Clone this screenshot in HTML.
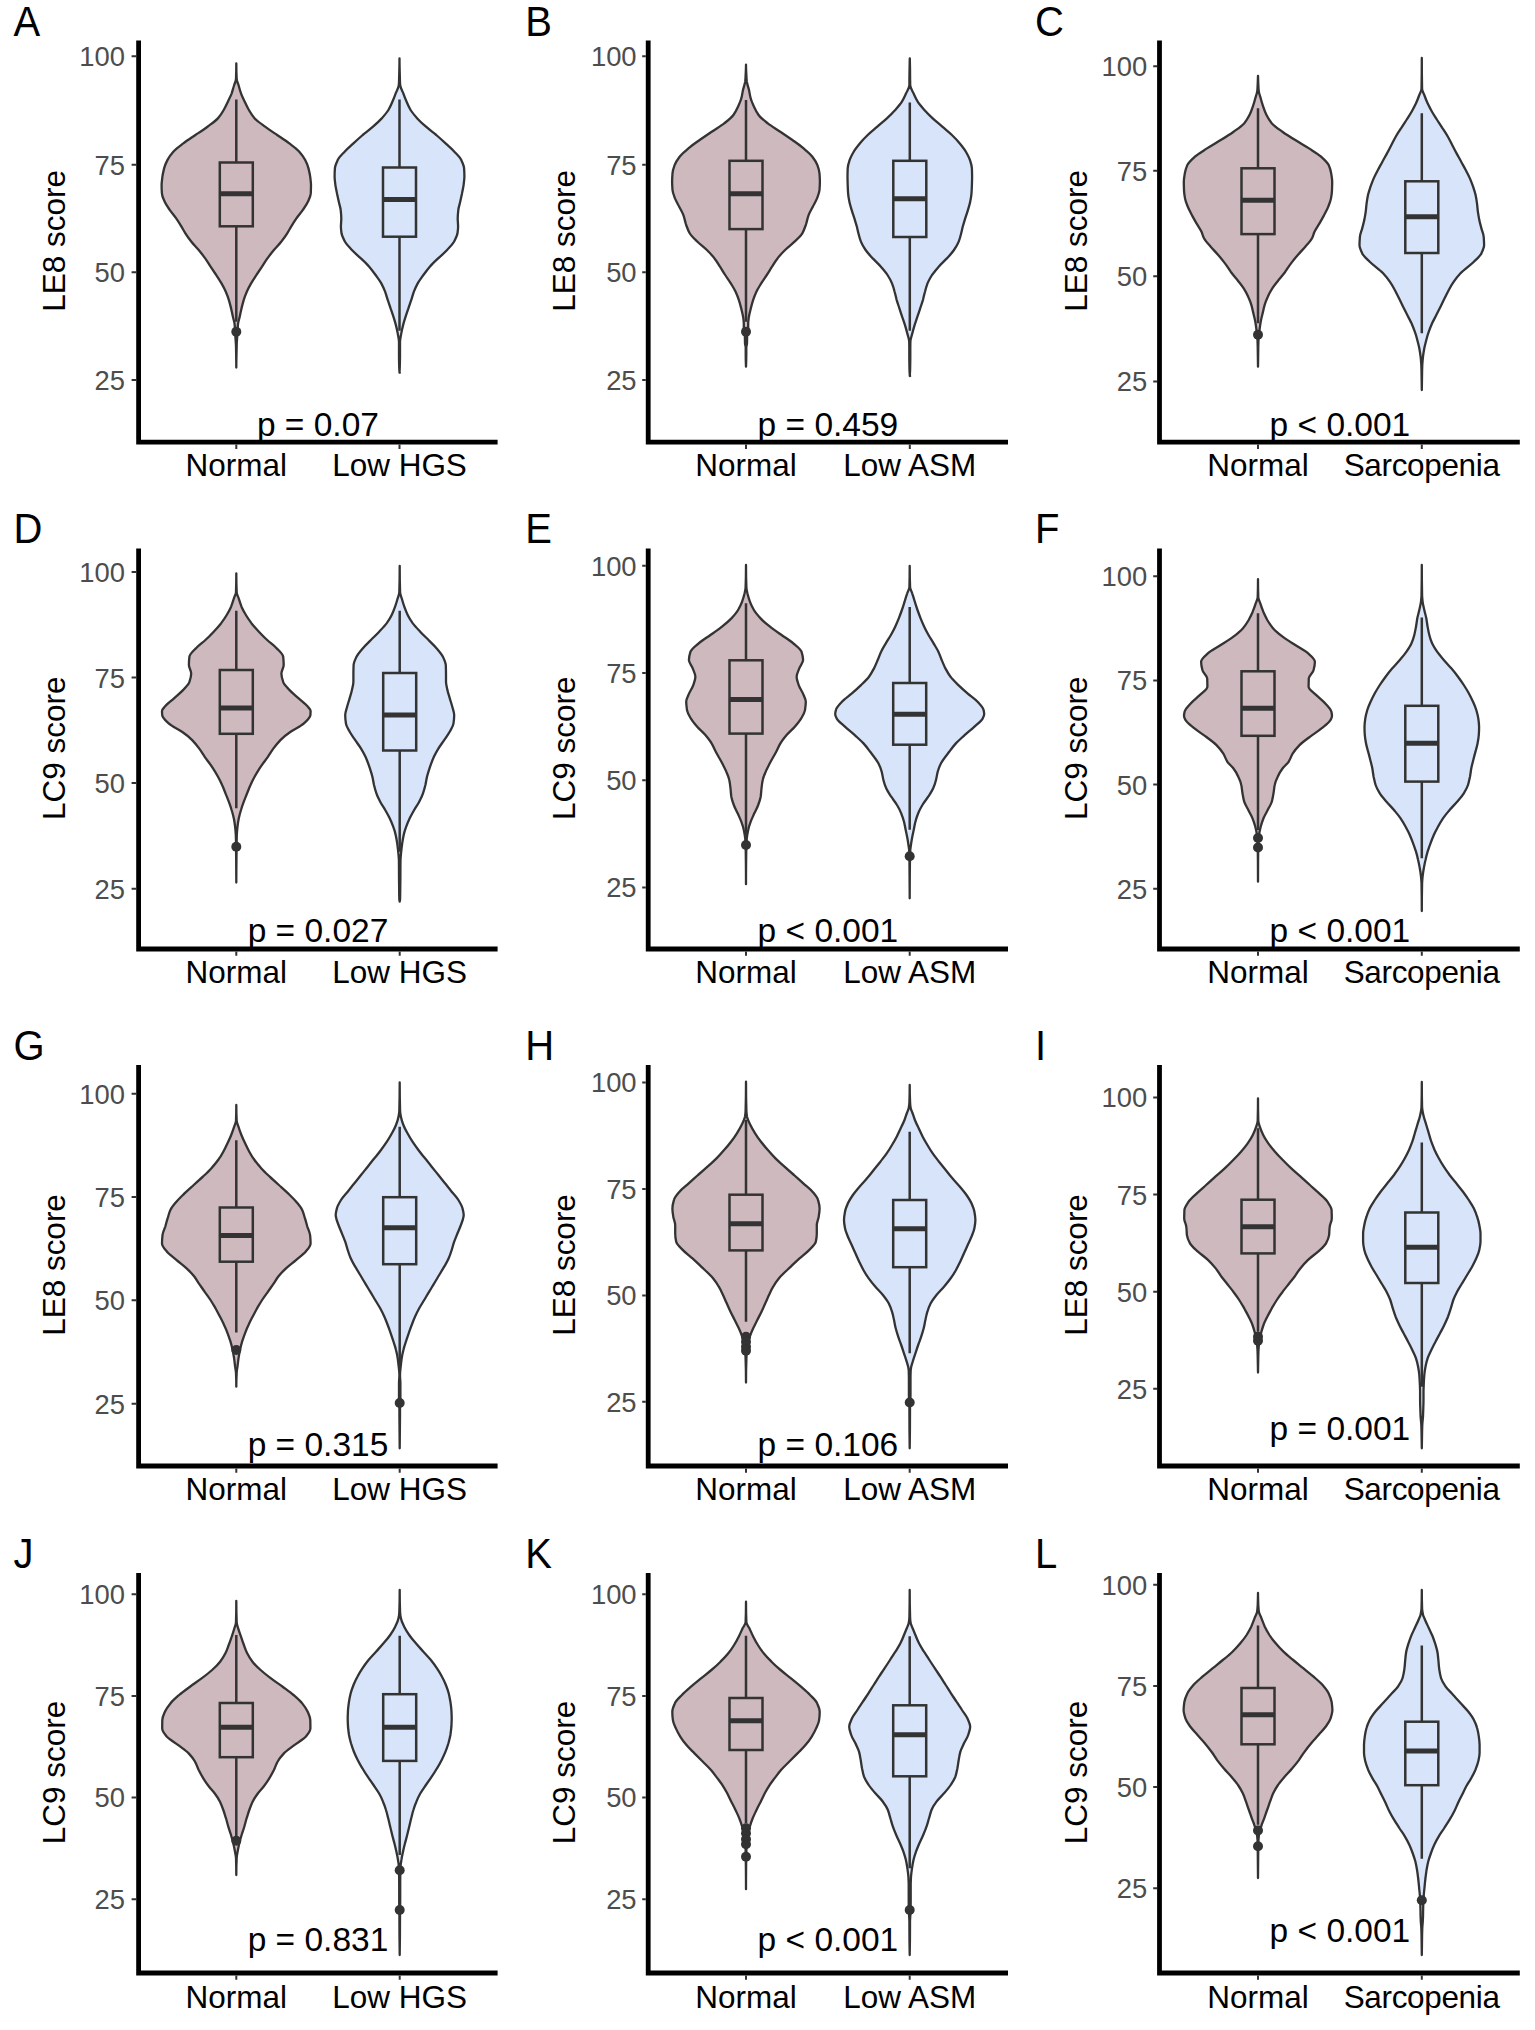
<!DOCTYPE html>
<html lang="en"><head><meta charset="utf-8"><title>LE8 and LC9 scores by muscle status</title>
<style>
html,body{margin:0;padding:0;background:#fff}
body{width:1535px;height:2030px;overflow:hidden}
svg{display:block}
text{font-family:"Liberation Sans",sans-serif}
.m{font-size:31.5px;fill:#000}
.t{font-size:27.4px;fill:#4D4D4D}
.l{font-size:40px;fill:#000}
.p{font-size:33.5px;fill:#000}
.v{stroke:#333333;stroke-width:2.3;stroke-linejoin:round}
.b{stroke:#333333;stroke-width:2.5;fill:none}
.w{stroke:#333333;stroke-width:2.5;fill:none}
.md{stroke:#333333;stroke-width:5;fill:none}
.ax{stroke:#000;stroke-width:4.8;fill:none;stroke-linecap:square}
.tk{stroke:#333333;stroke-width:2;fill:none}
.o{fill:#333333}
</style></head>
<body>
<svg width="1535" height="2030" viewBox="0 0 1535 2030">
<rect width="1535" height="2030" fill="#fff"/>
<g id="panel-A">
<text class="l" transform="translate(13.4 36) scale(1 1.04)">A</text>
<path class="v" fill="#CDB9BE" d="M236.3 63.3C236.3 68.6 236.4 73.8 236.7 79C236.7 81 237.9 83 238.5 85C239.3 87.8 240 90.6 241 93.3C242 96.1 243.4 98.9 244.7 101.7C246 104.5 247.2 107.2 248.9 110C250.5 112.8 252.2 115.6 254.7 118.4C257.2 121.1 261.4 123.9 265.1 126.7C268.9 129.5 273.2 132.3 277.2 135C281.3 137.8 285.7 140.6 289.3 143.4C293 146.2 296.9 148.9 299.3 151.7C301.8 154.5 303.8 157.3 305.2 160.1C306.6 162.8 307.8 165.6 308.5 168.4C309.2 171.2 309.8 173.9 310.2 176.7C310.5 179.5 311 182.3 311 185.1C311 187.8 310.9 190.6 310.8 193.4C310.6 196.2 309.1 199 307.9 201.8C306.7 204.5 304.6 207.3 302.7 210.1C300.8 212.9 298.3 215.6 296.4 218.4C294.5 221.2 292.7 224 291 226.8C289.7 229 288.6 231.1 287.2 233.3C285.5 236.1 283.4 238.9 281.2 241.7C279 244.5 276.2 247.2 273.9 250C271.6 252.8 269.4 255.6 267.4 258.4C265.4 261.1 263.8 263.9 262 266.7C260.1 269.5 258.2 272.3 256.4 275C254.6 277.8 252.7 280.6 251.1 283.4C249.5 286.2 248 288.9 246.8 291.7C245.6 294.5 244.5 297.3 243.7 300.1C242.9 302.8 242.2 305.6 241.5 308.4C240.9 311.2 240.3 313.9 239.7 316.7C239.1 319.5 238 322.3 237.9 325.1C237.7 327.3 237.7 329.5 237.6 331.7C237.5 334.4 237.1 337.2 237 340C236.8 342 236.7 344 236.7 346C236.5 353.2 236.3 360.3 236.3 367.5C236.3 360.3 236.1 353.2 236 346C235.9 344 235.8 342 235.6 340C235.5 337.2 235.1 334.4 235 331.7C234.9 329.5 234.9 327.3 234.7 325.1C234.6 322.3 233.5 319.5 232.9 316.7C232.3 313.9 231.7 311.2 231.1 308.4C230.4 305.6 229.7 302.8 228.9 300.1C228.1 297.3 227 294.5 225.8 291.7C224.6 288.9 223.1 286.2 221.5 283.4C219.9 280.6 218 277.8 216.2 275C214.4 272.3 212.5 269.5 210.6 266.7C208.8 263.9 207.2 261.1 205.2 258.4C203.2 255.6 201 252.8 198.7 250C196.4 247.2 193.6 244.5 191.4 241.7C189.2 238.9 187.1 236.1 185.4 233.3C184 231.1 182.9 229 181.6 226.8C179.9 224 178.1 221.2 176.2 218.4C174.3 215.6 171.8 212.9 169.9 210.1C168 207.3 165.9 204.5 164.7 201.8C163.5 199 162 196.2 161.9 193.4C161.7 190.6 161.6 187.8 161.6 185.1C161.6 182.3 162.1 179.5 162.4 176.7C162.8 173.9 163.4 171.2 164.1 168.4C164.8 165.6 166 162.8 167.4 160.1C168.8 157.3 170.8 154.5 173.3 151.7C175.7 148.9 179.6 146.2 183.3 143.4C186.9 140.6 191.3 137.8 195.4 135C199.4 132.3 203.7 129.5 207.5 126.7C211.2 123.9 215.4 121.1 217.9 118.4C220.4 115.6 222.1 112.8 223.7 110C225.4 107.2 226.6 104.5 227.9 101.7C229.2 98.9 230.6 96.1 231.7 93.3C232.6 90.6 233.3 87.8 234.2 85C234.8 83 235.9 81 236 79C236.2 73.8 236.3 68.6 236.3 63.3Z"/>
<path class="w" d="M236.3 99.5V162.5M236.3 226.3V321.7"/>
<circle class="o" cx="236.3" cy="331.7" r="5"/>
<rect class="b" x="219.8" y="162.5" width="33" height="63.8" fill="#CDB9BE"/>
<path class="md" d="M219.8 193.7H252.8"/>
<path class="v" fill="#D7E4F9" d="M399.5 58.3C399.5 65.2 399.7 72.1 399.9 79C399.9 81 400 83 400.2 85C400.4 87.8 402.2 90.6 403.3 93.3C404.3 96.1 405.4 98.9 406.6 101.7C407.8 104.5 408.9 107.2 410.6 110C412.3 112.8 414.8 115.6 417.3 118.4C419.8 121.1 422.9 123.9 426 126.7C429.2 129.5 433 132.3 436.3 135C439.5 137.8 442.6 140.6 445.6 143.4C448.6 146.2 451.8 148.9 454.4 151.7C457 154.5 460 157.3 461.3 160.1C462.6 162.8 464 165.6 464.1 168.4C464.3 171.2 464.4 173.9 464.4 176.7C464.4 179.5 463.9 182.3 463.6 185.1C463.2 187.8 462.5 190.6 462 193.4C461.4 196.2 460.8 199 460.2 201.8C459.6 204.5 458.6 207.3 458.3 210.1C458 212.9 457.7 215.6 457.7 218.4C457.7 221.2 458.1 224 458.1 226.8C458.1 229 457.8 231.1 457.5 233.3C457 236.1 455.5 238.9 454 241.7C452.4 244.5 449.6 247.2 447.1 250C444.5 252.8 441 255.6 438.1 258.4C435.2 261.1 432.2 263.9 429.8 266.7C427.4 269.5 425.4 272.3 423.4 275C421.4 277.8 419.2 280.6 417.7 283.4C416.2 286.2 415 288.9 413.9 291.7C412.9 294.5 412.1 297.3 411.2 300.1C410.3 302.8 409.3 305.6 408.4 308.4C407.4 311.2 406.5 313.9 405.6 316.7C404.7 319.5 403.8 322.3 403.1 325.1C402.4 327.8 401.8 330.6 401.3 333.4C400.8 336.2 400 339 400 341.8C400 343.9 400 346.1 400 348.3C400 351.1 400 353.9 400 356.7C400 360 399.9 363.3 399.8 366.7C399.8 368.6 399.5 370.6 399.5 372.5C399.5 372.6 399.7 372.6 399.8 372.7C399.3 372.6 399.5 372.6 399.5 372.5C399.5 370.6 399.2 368.6 399.2 366.7C399.1 363.3 399 360 399 356.7C399 353.9 399 351.1 399 348.3C399 346.1 399 343.9 399 341.8C399 339 398.2 336.2 397.7 333.4C397.2 330.6 396.6 327.8 395.9 325.1C395.2 322.3 394.3 319.5 393.4 316.7C392.5 313.9 391.6 311.2 390.6 308.4C389.7 305.6 388.7 302.8 387.8 300.1C386.9 297.3 386.1 294.5 385.1 291.7C384 288.9 382.8 286.2 381.3 283.4C379.8 280.6 377.6 277.8 375.6 275C373.6 272.3 371.6 269.5 369.2 266.7C366.8 263.9 363.8 261.1 360.9 258.4C358 255.6 354.5 252.8 351.9 250C349.4 247.2 346.6 244.5 345 241.7C343.5 238.9 342 236.1 341.5 233.3C341.2 231.1 340.9 229 340.9 226.8C340.9 224 341.3 221.2 341.3 218.4C341.3 215.6 341 212.9 340.7 210.1C340.4 207.3 339.4 204.5 338.8 201.8C338.2 199 337.6 196.2 337 193.4C336.5 190.6 335.8 187.8 335.4 185.1C335.1 182.3 334.6 179.5 334.6 176.7C334.6 173.9 334.7 171.2 334.9 168.4C335 165.6 336.4 162.8 337.7 160.1C339 157.3 342 154.5 344.6 151.7C347.2 148.9 350.4 146.2 353.4 143.4C356.4 140.6 359.5 137.8 362.7 135C366 132.3 369.8 129.5 373 126.7C376.1 123.9 379.2 121.1 381.7 118.4C384.2 115.6 386.7 112.8 388.4 110C390.1 107.2 391.2 104.5 392.4 101.7C393.6 98.9 394.7 96.1 395.7 93.3C396.8 90.6 398.6 87.8 398.8 85C399 83 399.1 81 399.1 79C399.3 72.1 399.5 65.2 399.5 58.3Z"/>
<path class="w" d="M399.5 99.5V167.5M399.5 236.7V330.8"/>
<rect class="b" x="383" y="167.5" width="33" height="69.2" fill="#D7E4F9"/>
<path class="md" d="M383 199.5H416"/>
<path class="ax" d="M138.6 43V442.2H495.2"/>
<path class="tk" d="M131.6 56.2H136.2M131.6 164.7H136.2M131.6 272.3H136.2M131.6 380H136.2M236.3 444.6V449M399.5 444.6V449"/>
<text class="t" text-anchor="end" transform="translate(124.9 66.1) scale(1 1.04)">100</text>
<text class="t" text-anchor="end" transform="translate(124.9 174.6) scale(1 1.04)">75</text>
<text class="t" text-anchor="end" transform="translate(124.9 282.2) scale(1 1.04)">50</text>
<text class="t" text-anchor="end" transform="translate(124.9 389.9) scale(1 1.04)">25</text>
<text class="m" text-anchor="middle" transform="translate(64.8 240.9) rotate(-90) scale(1 1.015)">LE8 score</text>
<text class="m" text-anchor="middle" transform="translate(236.3 476.4) scale(1 1.015)">Normal</text>
<text class="m" text-anchor="middle" transform="translate(399.5 476.4) scale(1 1.015)">Low HGS</text>
<text class="p" text-anchor="middle" transform="translate(317.9 435.5)">p = 0.07</text>
</g>
<g id="panel-B">
<text class="l" transform="translate(525.3 36) scale(1 1.04)">B</text>
<path class="v" fill="#CDB9BE" d="M746 64.7C746 68.3 746.2 72 746.4 75.7C746.4 77.7 746.6 79.7 746.8 81.7C747.2 84.4 748.4 87.2 749 90C749.6 92.8 749.9 95.6 750.7 98.3C751.4 101.1 752.7 103.9 754 106.7C755.3 109.5 756.6 112.2 758.6 115C760.6 117.8 764.3 120.6 767.8 123.4C771.3 126.1 776.2 128.9 780.3 131.7C784.4 134.5 788.5 137.3 792.4 140C796.3 142.8 800.4 145.6 803.6 148.4C806.9 151.2 810.3 153.9 812.4 156.7C814.5 159.5 816.4 162.3 817.4 165.1C818.4 167.8 819.3 170.6 819.5 173.4C819.7 176.2 819.9 178.9 819.9 181.7C819.9 184.5 819.7 187.3 819.5 190.1C819.2 192.8 818 195.6 817 198.4C815.9 201.2 814.2 204 812.8 206.8C811.4 209.5 809.6 212.3 808.6 215.1C807.6 217.9 807.1 220.6 806.3 223.4C806.1 223.9 806 224.5 805.8 225C804.8 227.8 803.9 230.6 802.3 233.3C800.7 236.1 797.4 238.9 794.5 241.7C791.7 244.5 787.9 247.2 785.1 250C782.3 252.8 779.6 255.6 777.5 258.4C775.3 261.1 773.7 263.9 772 266.7C770.2 269.5 768.6 272.3 766.8 275C765 277.8 762.9 280.6 761.2 283.4C759.5 286.2 757.7 288.9 756.4 291.7C755.1 294.5 754 297.3 753.1 300.1C752.2 302.8 751.5 305.6 750.8 308.4C750.1 311.2 749.4 313.9 748.9 316.7C748.6 318.9 748.2 321.1 748.2 323.3C748.2 325 748.2 326.7 748.2 328.3C748.2 330.3 747.2 332.2 747.2 334.2C747.1 337.2 747.1 340.3 747 343.3C746.9 344.7 746.3 346.1 746.3 347.5C746.3 349.5 746.3 351.5 746.3 353.5C746.3 357.9 746.2 362.3 746 366.7C745.8 362.3 745.7 357.9 745.7 353.5C745.7 351.5 745.7 349.5 745.7 347.5C745.7 346.1 745.1 344.7 745 343.3C744.9 340.3 744.9 337.2 744.8 334.2C744.8 332.2 743.8 330.3 743.8 328.3C743.8 326.7 743.8 325 743.8 323.3C743.8 321.1 743.4 318.9 743.1 316.7C742.6 313.9 741.9 311.2 741.2 308.4C740.5 305.6 739.8 302.8 738.9 300.1C738 297.3 736.9 294.5 735.6 291.7C734.3 288.9 732.5 286.2 730.8 283.4C729.1 280.6 727 277.8 725.2 275C723.4 272.3 721.8 269.5 720 266.7C718.3 263.9 716.7 261.1 714.5 258.4C712.4 255.6 709.7 252.8 706.9 250C704.1 247.2 700.3 244.5 697.5 241.7C694.6 238.9 691.3 236.1 689.7 233.3C688.1 230.6 687.2 227.8 686.2 225C686 224.5 685.9 223.9 685.7 223.4C684.9 220.6 684.4 217.9 683.4 215.1C682.4 212.3 680.6 209.5 679.2 206.8C677.8 204 676.1 201.2 675 198.4C674 195.6 672.8 192.8 672.5 190.1C672.3 187.3 672.1 184.5 672.1 181.7C672.1 178.9 672.3 176.2 672.5 173.4C672.7 170.6 673.6 167.8 674.6 165.1C675.6 162.3 677.5 159.5 679.6 156.7C681.7 153.9 685.1 151.2 688.4 148.4C691.6 145.6 695.7 142.8 699.6 140C703.5 137.3 707.6 134.5 711.7 131.7C715.8 128.9 720.7 126.1 724.2 123.4C727.7 120.6 731.4 117.8 733.4 115C735.4 112.2 736.7 109.5 738 106.7C739.3 103.9 740.6 101.1 741.3 98.3C742.1 95.6 742.4 92.8 743 90C743.6 87.2 744.8 84.4 745.2 81.7C745.4 79.7 745.6 77.7 745.6 75.7C745.8 72 746 68.3 746 64.7Z"/>
<path class="w" d="M746 100V160.8M746 229.2V321.7"/>
<circle class="o" cx="746" cy="331.7" r="5"/>
<rect class="b" x="729.5" y="160.8" width="33" height="68.3" fill="#CDB9BE"/>
<path class="md" d="M729.5 193.7H762.5"/>
<path class="v" fill="#D7E4F9" d="M909.8 58.3C910 65.2 910.1 72.1 910.1 79C910.2 81 910.2 83 910.2 85C910.2 87.8 912.3 90.6 913.5 93.3C914.8 96.1 916 98.9 917.7 101.7C919.4 104.5 921.9 107.2 924.4 110C926.9 112.8 929.7 115.6 932.7 118.4C935.7 121.1 939.1 123.9 942.3 126.7C945.5 129.5 949 132.3 951.9 135C954.8 137.8 957.5 140.6 959.8 143.4C962.1 146.2 964.3 148.9 965.9 151.7C967.5 154.5 969.1 157.3 970 160.1C970.9 162.8 971.8 165.6 971.9 168.4C972 171.2 972.1 173.9 972.1 176.7C972.1 179.5 972 182.3 971.9 185.1C971.8 187.8 971.7 190.6 971.5 193.4C971.3 196.2 970.8 199 970.2 201.8C969.7 204.5 968.7 207.3 967.9 210.1C967.1 212.9 966.1 215.6 965.2 218.4C964.4 221.2 963.5 224 962.7 226.8C962.2 229 961.8 231.1 961.2 233.3C960.5 236.1 959.8 238.9 958.7 241.7C957.6 244.5 955.9 247.2 954 250C952.1 252.8 949.4 255.6 946.9 258.4C944.3 261.1 941.2 263.9 938.7 266.7C936.3 269.5 933.8 272.3 932 275C930.3 277.8 928.6 280.6 927.5 283.4C926.5 286.2 925.7 288.9 925 291.7C924.2 294.5 923.6 297.3 922.9 300.1C922.1 302.8 921.1 305.6 920.2 308.4C919.3 311.2 918.4 313.9 917.4 316.7C916.5 319.5 915.5 322.3 914.6 325.1C913.8 327.8 913 330.6 912.3 333.4C911.6 336.2 910.4 339 910.4 341.8C910.3 343.9 910.3 346.1 910.3 348.3C910.3 351.1 910.3 353.9 910.3 356.7C910.3 361.1 910.2 365.6 910.1 370C910.1 371.9 909.8 373.9 909.8 375.8C909.8 375.9 910 375.9 910.1 376C909.6 375.9 909.8 375.9 909.8 375.8C909.8 373.9 909.5 371.9 909.5 370C909.4 365.6 909.3 361.1 909.3 356.7C909.3 353.9 909.3 351.1 909.3 348.3C909.3 346.1 909.3 343.9 909.2 341.8C909.2 339 908 336.2 907.3 333.4C906.6 330.6 905.8 327.8 905 325.1C904.1 322.3 903.1 319.5 902.1 316.7C901.2 313.9 900.3 311.2 899.4 308.4C898.5 305.6 897.5 302.8 896.7 300.1C896 297.3 895.4 294.5 894.6 291.7C893.9 288.9 893.1 286.2 892 283.4C891 280.6 889.3 277.8 887.5 275C885.8 272.3 883.3 269.5 880.9 266.7C878.4 263.9 875.3 261.1 872.7 258.4C870.2 255.6 867.5 252.8 865.6 250C863.7 247.2 862 244.5 860.9 241.7C859.8 238.9 859.1 236.1 858.4 233.3C857.8 231.1 857.4 229 856.9 226.8C856.1 224 855.2 221.2 854.4 218.4C853.5 215.6 852.5 212.9 851.7 210.1C850.9 207.3 849.9 204.5 849.4 201.8C848.8 199 848.3 196.2 848.1 193.4C847.9 190.6 847.8 187.8 847.7 185.1C847.6 182.3 847.5 179.5 847.5 176.7C847.5 173.9 847.6 171.2 847.7 168.4C847.8 165.6 848.7 162.8 849.6 160.1C850.5 157.3 852.1 154.5 853.7 151.7C855.3 148.9 857.5 146.2 859.8 143.4C862.1 140.6 864.8 137.8 867.7 135C870.6 132.3 874.1 129.5 877.3 126.7C880.5 123.9 883.9 121.1 886.9 118.4C889.9 115.6 892.7 112.8 895.2 110C897.7 107.2 900.2 104.5 901.9 101.7C903.6 98.9 904.8 96.1 906.1 93.3C907.3 90.6 909.4 87.8 909.4 85C909.4 83 909.4 81 909.4 79C909.5 72.1 909.6 65.2 909.8 58.3Z"/>
<path class="w" d="M909.8 102.5V160.8M909.8 237V330.8"/>
<rect class="b" x="893.3" y="160.8" width="33" height="76.2" fill="#D7E4F9"/>
<path class="md" d="M893.3 198.8H926.3"/>
<path class="ax" d="M648.2 43V442.2H1005.6"/>
<path class="tk" d="M642.2 56.2H645.8M642.2 164.7H645.8M642.2 272.3H645.8M642.2 380H645.8M746 444.6V449M909.8 444.6V449"/>
<text class="t" text-anchor="end" transform="translate(636.6 66.1) scale(1 1.04)">100</text>
<text class="t" text-anchor="end" transform="translate(636.6 174.6) scale(1 1.04)">75</text>
<text class="t" text-anchor="end" transform="translate(636.6 282.2) scale(1 1.04)">50</text>
<text class="t" text-anchor="end" transform="translate(636.6 389.9) scale(1 1.04)">25</text>
<text class="m" text-anchor="middle" transform="translate(575.2 240.9) rotate(-90) scale(1 1.015)">LE8 score</text>
<text class="m" text-anchor="middle" transform="translate(746 476.4) scale(1 1.015)">Normal</text>
<text class="m" text-anchor="middle" transform="translate(909.8 476.4) scale(1 1.015)">Low ASM</text>
<text class="p" text-anchor="middle" transform="translate(827.9 435.5)">p = 0.459</text>
</g>
<g id="panel-C">
<text class="l" transform="translate(1035 36) scale(1 1.04)">C</text>
<path class="v" fill="#CDB9BE" d="M1258 75.8C1258.1 78.6 1258.2 81.3 1258.3 84C1258.4 86 1258.5 88 1258.6 90C1258.8 92.8 1259.9 95.6 1260.7 98.3C1261.4 101.1 1262.2 103.9 1263.2 106.7C1264.1 109.5 1265.1 112.2 1266.5 115C1267.9 117.8 1269.6 120.6 1271.9 123.4C1274.3 126.1 1278.5 128.9 1282.4 131.7C1286.2 134.5 1290.8 137.3 1295.3 140C1299.7 142.8 1304.8 145.6 1309 148.4C1313.3 151.2 1318 153.9 1321.1 156.7C1324.2 159.5 1327.4 162.3 1328.7 165.1C1329.9 167.8 1330.7 170.6 1331.2 173.4C1331.6 176.2 1332.2 178.9 1332.2 181.7C1332.2 184.5 1332.1 187.3 1332 190.1C1331.9 192.8 1331.5 195.6 1331 198.4C1330.5 201.2 1329.3 204 1328.2 206.8C1327.1 209.5 1325.5 212.3 1324.1 215.1C1322.6 217.9 1321.1 220.6 1319.5 223.4C1317.9 226.2 1315.8 229 1314.5 231.8C1313.5 234 1313.1 236.1 1312 238.3C1310.6 241.1 1307.7 243.9 1305.3 246.7C1302.9 249.5 1300.2 252.2 1297.8 255C1295.4 257.8 1293 260.6 1291 263.4C1288.9 266.1 1287.3 268.9 1285.3 271.7C1283.2 274.5 1280.8 277.3 1278.6 280C1276.5 282.8 1274.1 285.6 1272.3 288.4C1270.6 291.1 1269 293.9 1267.8 296.7C1266.5 299.5 1265.4 302.3 1264.6 305.1C1263.8 307.8 1263.3 310.6 1262.6 313.4C1261.9 316.2 1261.2 318.9 1260.7 321.7C1260.1 325 1259.7 328.4 1259.3 331.7C1259 334.4 1258.6 337.2 1258.5 340C1258.4 342 1258.4 344 1258.3 346C1258.2 352.9 1258.1 359.8 1258 366.7C1257.9 359.8 1257.8 352.9 1257.7 346C1257.6 344 1257.6 342 1257.5 340C1257.4 337.2 1257 334.4 1256.7 331.7C1256.3 328.4 1255.9 325 1255.3 321.7C1254.8 318.9 1254.1 316.2 1253.4 313.4C1252.7 310.6 1252.2 307.8 1251.4 305.1C1250.6 302.3 1249.5 299.5 1248.2 296.7C1247 293.9 1245.4 291.1 1243.7 288.4C1241.9 285.6 1239.5 282.8 1237.4 280C1235.2 277.3 1232.8 274.5 1230.7 271.7C1228.7 268.9 1227.1 266.1 1225 263.4C1223 260.6 1220.6 257.8 1218.2 255C1215.8 252.2 1213.1 249.5 1210.7 246.7C1208.3 243.9 1205.4 241.1 1204 238.3C1202.9 236.1 1202.5 234 1201.5 231.8C1200.2 229 1198.1 226.2 1196.5 223.4C1194.9 220.6 1193.4 217.9 1191.9 215.1C1190.5 212.3 1188.9 209.5 1187.8 206.8C1186.7 204 1185.5 201.2 1185 198.4C1184.5 195.6 1184.1 192.8 1184 190.1C1183.9 187.3 1183.8 184.5 1183.8 181.7C1183.8 178.9 1184.4 176.2 1184.8 173.4C1185.3 170.6 1186.1 167.8 1187.3 165.1C1188.6 162.3 1191.8 159.5 1194.9 156.7C1198 153.9 1202.7 151.2 1207 148.4C1211.2 145.6 1216.3 142.8 1220.7 140C1225.2 137.3 1229.8 134.5 1233.6 131.7C1237.5 128.9 1241.7 126.1 1244.1 123.4C1246.4 120.6 1248.1 117.8 1249.5 115C1250.9 112.2 1251.9 109.5 1252.8 106.7C1253.8 103.9 1254.6 101.1 1255.3 98.3C1256.1 95.6 1257.2 92.8 1257.4 90C1257.5 88 1257.6 86 1257.7 84C1257.8 81.3 1257.9 78.6 1258 75.8Z"/>
<path class="w" d="M1258 108.3V168.3M1258 234.2V323.3"/>
<circle class="o" cx="1258" cy="334.7" r="5"/>
<rect class="b" x="1241.5" y="168.3" width="33" height="65.8" fill="#CDB9BE"/>
<path class="md" d="M1241.5 200.3H1274.5"/>
<path class="v" fill="#D7E4F9" d="M1421.8 58C1421.8 68.3 1421.9 78.7 1422.1 89C1422.2 91 1423.5 93 1424.3 95C1425.3 97.8 1426.4 100.6 1427.6 103.3C1428.9 106.1 1430.4 108.9 1432 111.7C1433.6 114.5 1435.5 117.2 1437.2 120C1439 122.8 1440.9 125.6 1442.6 128.4C1444.4 131.1 1446.3 133.9 1447.9 136.7C1449.5 139.5 1450.8 142.3 1452.2 145C1453.7 147.8 1455.1 150.6 1456.6 153.4C1458.1 156.2 1459.7 158.9 1461.2 161.7C1462.7 164.5 1464.3 167.3 1465.7 170C1467.2 172.8 1468.7 175.6 1469.9 178.4C1471.1 181.2 1472.1 183.9 1473.1 186.7C1474 189.5 1475 192.3 1475.6 195.1C1476.2 197.8 1476.6 200.6 1477 203.4C1477.4 206.2 1477.5 209 1477.9 211.8C1478.3 214.5 1478.8 217.3 1479.3 220.1C1479.9 222.9 1480.7 225.6 1481.4 228.4C1482.1 231.2 1483.5 234 1483.7 236.8C1483.9 239.5 1484.1 242.3 1484.1 245.1C1484.1 247.9 1482.7 250.7 1481.4 253.4C1480.1 256.2 1476.7 259 1473.9 261.8C1470 265.6 1464.1 269.5 1460.5 273.3C1457.9 276.1 1455.7 278.9 1453.8 281.7C1451.9 284.4 1450.3 287.2 1448.8 290C1447.3 292.8 1446 295.6 1444.6 298.3C1443.2 301.1 1441.9 303.9 1440.5 306.7C1439.1 309.4 1437.7 312.2 1436.3 315C1434.9 317.8 1433.4 320.6 1432.1 323.3C1430.9 326.1 1429.8 328.9 1428.8 331.7C1427.8 334.4 1427 337.2 1426.3 340C1425.6 342.8 1424.8 345.6 1424.3 348.3C1423.8 351.1 1423.3 353.9 1423 356.7C1422.7 359.4 1422.4 362.2 1422.3 365C1422.2 367 1422.2 369 1422.1 371C1422 377.3 1421.9 383.7 1421.8 390C1421.7 383.7 1421.6 377.3 1421.5 371C1421.4 369 1421.4 367 1421.3 365C1421.2 362.2 1420.9 359.4 1420.6 356.7C1420.3 353.9 1419.8 351.1 1419.3 348.3C1418.8 345.6 1418 342.8 1417.3 340C1416.6 337.2 1415.8 334.4 1414.8 331.7C1413.8 328.9 1412.7 326.1 1411.5 323.3C1410.2 320.6 1408.7 317.8 1407.3 315C1405.9 312.2 1404.5 309.4 1403.1 306.7C1401.7 303.9 1400.4 301.1 1399 298.3C1397.6 295.6 1396.3 292.8 1394.8 290C1393.3 287.2 1391.7 284.4 1389.8 281.7C1387.9 278.9 1385.7 276.1 1383.1 273.3C1379.5 269.5 1373.6 265.6 1369.7 261.8C1366.9 259 1363.5 256.2 1362.2 253.4C1360.9 250.7 1359.5 247.9 1359.5 245.1C1359.5 242.3 1359.7 239.5 1359.9 236.8C1360.1 234 1361.5 231.2 1362.2 228.4C1362.9 225.6 1363.7 222.9 1364.3 220.1C1364.8 217.3 1365.3 214.5 1365.7 211.8C1366.1 209 1366.2 206.2 1366.6 203.4C1367 200.6 1367.4 197.8 1368 195.1C1368.6 192.3 1369.6 189.5 1370.5 186.7C1371.5 183.9 1372.5 181.2 1373.7 178.4C1374.9 175.6 1376.4 172.8 1377.9 170C1379.3 167.3 1380.9 164.5 1382.4 161.7C1383.9 158.9 1385.5 156.2 1387 153.4C1388.5 150.6 1389.9 147.8 1391.4 145C1392.8 142.3 1394.1 139.5 1395.7 136.7C1397.3 133.9 1399.2 131.1 1401 128.4C1402.7 125.6 1404.6 122.8 1406.4 120C1408.1 117.2 1410 114.5 1411.6 111.7C1413.2 108.9 1414.7 106.1 1416 103.3C1417.2 100.6 1418.3 97.8 1419.3 95C1420.1 93 1421.4 91 1421.5 89C1421.7 78.7 1421.8 68.3 1421.8 58Z"/>
<path class="w" d="M1421.8 113.3V181.3M1421.8 253V333.3"/>
<rect class="b" x="1405.3" y="181.3" width="33" height="71.7" fill="#D7E4F9"/>
<path class="md" d="M1405.3 216.7H1438.3"/>
<path class="ax" d="M1159.5 43V442.2H1517.4"/>
<path class="tk" d="M1153.2 66.3H1157.1M1153.2 170.8H1157.1M1153.2 276.3H1157.1M1153.2 381.5H1157.1M1258 444.6V449M1421.8 444.6V449"/>
<text class="t" text-anchor="end" transform="translate(1147.2 76.2) scale(1 1.04)">100</text>
<text class="t" text-anchor="end" transform="translate(1147.2 180.7) scale(1 1.04)">75</text>
<text class="t" text-anchor="end" transform="translate(1147.2 286.2) scale(1 1.04)">50</text>
<text class="t" text-anchor="end" transform="translate(1147.2 391.4) scale(1 1.04)">25</text>
<text class="m" text-anchor="middle" transform="translate(1086.8 240.9) rotate(-90) scale(1 1.015)">LE8 score</text>
<text class="m" text-anchor="middle" transform="translate(1258 476.4) scale(1 1.015)">Normal</text>
<text class="m" text-anchor="middle" textLength="156.3" transform="translate(1421.8 476.4) scale(1 1.015)">Sarcopenia</text>
<text class="p" text-anchor="middle" transform="translate(1339.9 435.5)">p &lt; 0.001</text>
</g>
<g id="panel-D">
<text class="l" transform="translate(13.4 543) scale(1 1.04)">D</text>
<path class="v" fill="#CDB9BE" d="M236.3 573.3C236.3 579.7 236.4 586 236.7 592.3C236.7 594.3 238 596.3 238.7 598.3C239.6 601.1 240.4 603.9 241.5 606.7C242.7 609.5 244.2 612.2 245.9 615C247.5 617.8 249.5 620.6 251.6 623.4C253.8 626.1 256.3 628.9 258.9 631.7C261.5 634.5 264.2 637.3 267.2 640C270.2 642.8 274.3 645.6 276.8 648.4C279.4 651.1 282.9 653.9 283.2 656.7C283.5 659.5 283.7 662.3 283.7 665C283.7 667.8 281.4 670.6 281.4 673.4C281.4 676.2 282.2 679 283.1 681.7C283.9 684.5 287 687.3 289.6 690.1C292.1 692.8 295.6 695.6 298.7 698.4C301.7 701.2 305.7 704 307.9 706.8C309 708.1 310.6 709.5 310.6 710.9C310.6 712.3 310.5 713.7 310.4 715.1C310.2 717.9 306.8 720.6 303.9 723.4C301 726.2 294.4 729 290.6 731.8C286.7 734.5 283.1 737.3 280.4 740.1C277.7 742.9 275.5 745.7 273.5 748.4C271.4 751.2 269.8 754 267.9 756.8C265.2 760.6 262.1 764.5 259.6 768.3C257.8 771.1 256.1 773.9 254.6 776.7C253.1 779.4 251.7 782.2 250.5 785C249.2 787.8 248.2 790.6 247.1 793.3C246 796.1 244.8 798.9 243.8 801.7C242.8 804.4 241.8 807.2 241 810C240.1 812.8 239.4 815.6 238.8 818.3C238.2 821.1 237.8 823.9 237.5 826.7C237.2 829.4 236.9 832.2 236.8 835C236.7 837 236.7 839 236.7 841C236.5 854.8 236.3 868.7 236.3 882.5C236.3 868.7 236.1 854.8 236 841C235.9 839 235.9 837 235.8 835C235.7 832.2 235.4 829.4 235.1 826.7C234.8 823.9 234.4 821.1 233.8 818.3C233.2 815.6 232.5 812.8 231.6 810C230.8 807.2 229.8 804.4 228.8 801.7C227.8 798.9 226.6 796.1 225.5 793.3C224.4 790.6 223.4 787.8 222.1 785C220.9 782.2 219.5 779.4 218 776.7C216.5 773.9 214.8 771.1 213 768.3C210.5 764.5 207.4 760.6 204.7 756.8C202.8 754 201.2 751.2 199.1 748.4C197.1 745.7 194.9 742.9 192.2 740.1C189.5 737.3 185.9 734.5 182 731.8C178.2 729 171.6 726.2 168.7 723.4C165.8 720.6 162.4 717.9 162.2 715.1C162.1 713.7 162 712.3 162 710.9C162 709.5 163.6 708.1 164.7 706.8C166.9 704 170.9 701.2 174 698.4C177 695.6 180.5 692.8 183 690.1C185.6 687.3 188.7 684.5 189.5 681.7C190.4 679 191.2 676.2 191.2 673.4C191.2 670.6 188.9 667.8 188.9 665C188.9 662.3 189.1 659.5 189.4 656.7C189.7 653.9 193.2 651.1 195.8 648.4C198.3 645.6 202.4 642.8 205.4 640C208.4 637.3 211.1 634.5 213.7 631.7C216.3 628.9 218.8 626.1 221 623.4C223.1 620.6 225.1 617.8 226.7 615C228.4 612.2 229.9 609.5 231.1 606.7C232.2 603.9 233 601.1 233.9 598.3C234.6 596.3 235.9 594.3 236 592.3C236.2 586 236.3 579.7 236.3 573.3Z"/>
<path class="w" d="M236.3 610.8V670M236.3 733.8V808.3"/>
<circle class="o" cx="236.3" cy="846.7" r="5"/>
<rect class="b" x="219.8" y="670" width="33" height="63.8" fill="#CDB9BE"/>
<path class="md" d="M219.8 708H252.8"/>
<path class="v" fill="#D7E4F9" d="M399.7 565.8C399.7 574.7 399.8 583.5 400.1 592.3C400.1 594.3 401.1 596.3 401.7 598.3C402.5 601.1 403.3 603.9 404.3 606.7C405.3 609.5 406.3 612.2 407.7 615C409 617.8 410.8 620.6 412.8 623.4C414.9 626.1 417.6 628.9 420.2 631.7C422.8 634.5 425.8 637.3 428.5 640C431.3 642.8 434.3 645.6 436.7 648.4C439 651.1 441.5 653.9 442.9 656.7C444.2 659.5 445.6 662.3 445.8 665C445.9 667.8 446 670.6 446 673.4C446 676.2 446 679 446 681.7C446 684.5 446.9 687.3 447.4 690.1C448 692.8 449 695.6 449.8 698.4C450.6 701.2 451.6 704 452.3 706.8C453 709.5 454.2 712.3 454.2 715.1C454.2 717.9 453.9 720.6 453.5 723.4C453.2 726.2 451.2 729 449.7 731.8C448.2 734.5 446.1 737.3 444.2 740.1C442.3 742.9 440.2 745.7 438.5 748.4C436.8 751.2 435.2 754 433.9 756.8C432.2 760.6 430.8 764.5 429.5 768.3C428.6 771.1 427.7 773.9 427 776.7C426.4 779.4 426 782.2 425.4 785C424.7 787.8 424 790.6 423 793.3C422.1 796.1 420.6 798.9 419.2 801.7C417.8 804.4 415.8 807.2 414.2 810C412.6 812.8 411 815.6 409.7 818.3C408.4 821.1 407.2 823.9 406.2 826.7C405.2 829.4 404.3 832.2 403.7 835C403.1 837.8 402.6 840.6 402.2 843.3C401.8 846.1 401.5 848.9 401.2 851.7C400.9 854.4 400.6 857.2 400.5 860C400.4 865.6 400.4 871.1 400.4 876.7C400.3 882.2 400.3 887.8 400.2 893.3C400.2 895.3 400.1 897.3 400.1 899.3C400 900.1 399.8 900.9 399.7 901.7C399.6 900.9 399.4 900.1 399.3 899.3C399.3 897.3 399.2 895.3 399.2 893.3C399.1 887.8 399.1 882.2 399 876.7C399 871.1 399 865.6 398.9 860C398.8 857.2 398.5 854.4 398.2 851.7C397.9 848.9 397.6 846.1 397.2 843.3C396.8 840.6 396.3 837.8 395.7 835C395.1 832.2 394.2 829.4 393.2 826.7C392.2 823.9 391 821.1 389.7 818.3C388.4 815.6 386.8 812.8 385.2 810C383.6 807.2 381.6 804.4 380.2 801.7C378.8 798.9 377.3 796.1 376.4 793.3C375.4 790.6 374.7 787.8 374 785C373.4 782.2 373 779.4 372.4 776.7C371.7 773.9 370.8 771.1 369.9 768.3C368.6 764.5 367.2 760.6 365.5 756.8C364.2 754 362.6 751.2 360.9 748.4C359.2 745.7 357.1 742.9 355.2 740.1C353.3 737.3 351.2 734.5 349.7 731.8C348.2 729 346.2 726.2 345.9 723.4C345.5 720.6 345.2 717.9 345.2 715.1C345.2 712.3 346.4 709.5 347.1 706.8C347.8 704 348.8 701.2 349.6 698.4C350.4 695.6 351.4 692.8 351.9 690.1C352.5 687.3 353.4 684.5 353.4 681.7C353.4 679 353.4 676.2 353.4 673.4C353.4 670.6 353.5 667.8 353.6 665C353.8 662.3 355.2 659.5 356.5 656.7C357.9 653.9 360.4 651.1 362.7 648.4C365.1 645.6 368.1 642.8 370.9 640C373.6 637.3 376.6 634.5 379.2 631.7C381.8 628.9 384.5 626.1 386.6 623.4C388.6 620.6 390.4 617.8 391.7 615C393.1 612.2 394.1 609.5 395.1 606.7C396.1 603.9 396.9 601.1 397.7 598.3C398.3 596.3 399.3 594.3 399.3 592.3C399.6 583.5 399.7 574.7 399.7 565.8Z"/>
<path class="w" d="M399.7 610.8V673M399.7 750.5V851.7"/>
<rect class="b" x="383.2" y="673" width="33" height="77.5" fill="#D7E4F9"/>
<path class="md" d="M383.2 715H416.2"/>
<path class="ax" d="M138.6 550.9V949H495.2"/>
<path class="tk" d="M131.6 572H136.2M131.6 677.6H136.2M131.6 783.1H136.2M131.6 888.7H136.2M236.3 951.4V955.8M399.7 951.4V955.8"/>
<text class="t" text-anchor="end" transform="translate(124.9 581.9) scale(1 1.04)">100</text>
<text class="t" text-anchor="end" transform="translate(124.9 687.5) scale(1 1.04)">75</text>
<text class="t" text-anchor="end" transform="translate(124.9 793) scale(1 1.04)">50</text>
<text class="t" text-anchor="end" transform="translate(124.9 898.6) scale(1 1.04)">25</text>
<text class="m" text-anchor="middle" transform="translate(64.8 748.2) rotate(-90) scale(1 1.015)">LC9 score</text>
<text class="m" text-anchor="middle" transform="translate(236.3 982.7) scale(1 1.015)">Normal</text>
<text class="m" text-anchor="middle" transform="translate(399.7 982.7) scale(1 1.015)">Low HGS</text>
<text class="p" text-anchor="middle" transform="translate(318 941.5)">p = 0.027</text>
</g>
<g id="panel-E">
<text class="l" transform="translate(525.3 543) scale(1 1.04)">E</text>
<path class="v" fill="#CDB9BE" d="M746 565C746 572.4 746.1 579.9 746.4 587.3C746.4 589.3 747 591.3 747.4 593.3C748.1 596.1 748.9 598.9 749.9 601.7C750.9 604.5 752.2 607.2 753.9 610C755.5 612.8 758 615.6 760.6 618.4C763.2 621.1 766.5 623.9 770 626.7C773.4 629.5 777.7 632.3 781.6 635C785.5 637.8 790.1 640.6 793.3 643.4C796.5 646.1 800.5 648.9 801.5 651.7C802.4 654.5 803.1 657.3 803.1 660C803.1 662.8 800.3 665.6 799.3 668.4C798.3 671.2 796.6 674 796.6 676.7C796.6 679.5 797.8 682.3 798.7 685.1C799.6 687.8 801.7 690.6 802.9 693.4C804 696.2 805.8 699 805.8 701.8C805.8 704.5 805.4 707.3 805 710.1C804.5 712.9 802.8 715.6 801.2 718.4C799.6 721.2 797.2 724 794.8 726.8C792.4 729.5 789 732.3 786.6 735.1C784.3 737.9 782 740.7 780.4 743.4C778.7 746.2 777.7 749 776.2 751.8C774.2 755.6 771.8 759.5 769.8 763.3C768.4 766.1 766.8 768.9 765.7 771.7C764.5 774.4 763.2 777.2 762.7 780C762.1 782.8 761.8 785.6 761.5 788.3C761.2 791.1 761.1 793.9 760.7 796.7C760.2 799.4 759.2 802.2 758.2 805C757.2 807.8 755.6 810.6 754.3 813.3C753.1 816.1 751.7 818.9 750.7 821.7C749.7 824.4 748.7 827.2 748.2 830C747.6 832.8 747.1 835.6 746.8 838.3C746.6 840.3 746.4 842.3 746.4 844.3C746.1 857.6 746 870.9 746 884.2C746 870.9 745.9 857.6 745.6 844.3C745.6 842.3 745.4 840.3 745.2 838.3C744.9 835.6 744.4 832.8 743.8 830C743.3 827.2 742.3 824.4 741.3 821.7C740.3 818.9 738.9 816.1 737.7 813.3C736.4 810.6 734.8 807.8 733.8 805C732.8 802.2 731.8 799.4 731.3 796.7C730.9 793.9 730.8 791.1 730.5 788.3C730.2 785.6 729.9 782.8 729.3 780C728.8 777.2 727.5 774.4 726.3 771.7C725.2 768.9 723.6 766.1 722.2 763.3C720.2 759.5 717.8 755.6 715.8 751.8C714.3 749 713.3 746.2 711.6 743.4C710 740.7 707.7 737.9 705.4 735.1C703 732.3 699.6 729.5 697.2 726.8C694.8 724 692.4 721.2 690.8 718.4C689.2 715.6 687.5 712.9 687 710.1C686.6 707.3 686.2 704.5 686.2 701.8C686.2 699 688 696.2 689.1 693.4C690.3 690.6 692.4 687.8 693.3 685.1C694.2 682.3 695.4 679.5 695.4 676.7C695.4 674 693.7 671.2 692.7 668.4C691.7 665.6 688.9 662.8 688.9 660C688.9 657.3 689.6 654.5 690.5 651.7C691.5 648.9 695.5 646.1 698.7 643.4C701.9 640.6 706.5 637.8 710.4 635C714.3 632.3 718.6 629.5 722 626.7C725.5 623.9 728.8 621.1 731.4 618.4C734 615.6 736.5 612.8 738.1 610C739.8 607.2 741.1 604.5 742.1 601.7C743.1 598.9 743.9 596.1 744.6 593.3C745 591.3 745.6 589.3 745.6 587.3C745.9 579.9 746 572.4 746 565Z"/>
<path class="w" d="M746 603.3V660.3M746 733.7V835"/>
<circle class="o" cx="746" cy="845" r="5"/>
<rect class="b" x="729.5" y="660.3" width="33" height="73.3" fill="#CDB9BE"/>
<path class="md" d="M729.5 699.5H762.5"/>
<path class="v" fill="#D7E4F9" d="M909.7 565.8C909.7 573 909.8 580.2 910.1 587.3C910.1 589.3 911.6 591.3 912.2 593.3C913.2 596.1 914 598.9 914.8 601.7C915.7 604.5 916.5 607.2 917.5 610C918.5 612.8 919.5 615.6 920.6 618.4C921.7 621.1 922.9 623.9 924.2 626.7C925.5 629.5 927 632.3 928.5 635C930.1 637.8 932 640.6 933.6 643.4C935.2 646.1 937 648.9 938.4 651.7C939.7 654.5 940.5 657.3 941.7 660C942.9 662.8 944 665.6 945.4 668.4C946.9 671.2 948.4 674 950.5 676.7C952.5 679.5 955.5 682.3 958.4 685.1C961.2 687.8 964.3 690.6 967.5 693.4C970.7 696.2 975 699 977.6 701.8C980 704.5 982.9 707.3 983.6 710.1C983.9 711.5 984.2 712.9 984.2 714.2C984.2 715.6 983.4 717 982.7 718.4C981.3 721.2 977.2 724 974.2 726.8C971.2 729.5 967.7 732.3 964.6 735.1C961.6 737.9 958.4 740.7 955.9 743.4C953.3 746.2 951.3 749 949.2 751.8C946.3 755.6 943 759.5 941 763.3C939.6 766.1 938.4 768.9 937.7 771.7C937 774.4 936.7 777.2 936 780C935.3 782.8 934.4 785.6 933.2 788.3C932 791.1 930 793.9 928.2 796.7C926.4 799.4 924 802.2 922.4 805C920.7 807.8 919.3 810.6 918.2 813.3C917.1 816.1 916.1 818.9 915.4 821.7C914.7 824.4 914.3 827.2 913.7 830C913.1 832.8 912.5 835.6 912 838.3C911.5 841.1 911.1 843.9 910.7 846.7C910.4 848.7 910.1 850.7 910.1 852.7C909.8 867.9 909.7 883.1 909.7 898.3C909.7 883.1 909.6 867.9 909.4 852.7C909.3 850.7 909 848.7 908.7 846.7C908.3 843.9 907.9 841.1 907.4 838.3C906.9 835.6 906.3 832.8 905.7 830C905.1 827.2 904.7 824.4 904 821.7C903.3 818.9 902.3 816.1 901.2 813.3C900.1 810.6 898.7 807.8 897 805C895.4 802.2 893 799.4 891.2 796.7C889.4 793.9 887.4 791.1 886.2 788.3C885 785.6 884.1 782.8 883.4 780C882.7 777.2 882.4 774.4 881.7 771.7C881 768.9 879.8 766.1 878.4 763.3C876.4 759.5 873.1 755.6 870.2 751.8C868.1 749 866.1 746.2 863.5 743.4C861 740.7 857.8 737.9 854.8 735.1C851.7 732.3 848.2 729.5 845.2 726.8C842.2 724 838.1 721.2 836.7 718.4C836 717 835.2 715.6 835.2 714.2C835.2 712.9 835.5 711.5 835.9 710.1C836.5 707.3 839.4 704.5 841.9 701.8C844.4 699 848.7 696.2 851.9 693.4C855.1 690.6 858.2 687.8 861 685.1C863.9 682.3 866.9 679.5 869 676.7C871 674 872.5 671.2 874 668.4C875.4 665.6 876.5 662.8 877.7 660C878.9 657.3 879.7 654.5 881.1 651.7C882.4 648.9 884.2 646.1 885.8 643.4C887.4 640.6 889.3 637.8 890.9 635C892.4 632.3 893.9 629.5 895.2 626.7C896.5 623.9 897.7 621.1 898.8 618.4C899.9 615.6 900.9 612.8 901.9 610C902.9 607.2 903.7 604.5 904.6 601.7C905.4 598.9 906.2 596.1 907.2 593.3C907.8 591.3 909.3 589.3 909.4 587.3C909.6 580.2 909.7 573 909.7 565.8Z"/>
<path class="w" d="M909.7 607V683M909.7 744.7V829.7"/>
<circle class="o" cx="909.7" cy="856.3" r="5"/>
<rect class="b" x="893.2" y="683" width="33" height="61.7" fill="#D7E4F9"/>
<path class="md" d="M893.2 714.2H926.2"/>
<path class="ax" d="M648.2 550.9V949H1005.6"/>
<path class="tk" d="M642.2 565.8H645.8M642.2 673H645.8M642.2 780.2H645.8M642.2 887.4H645.8M746 951.4V955.8M909.7 951.4V955.8"/>
<text class="t" text-anchor="end" transform="translate(636.6 575.7) scale(1 1.04)">100</text>
<text class="t" text-anchor="end" transform="translate(636.6 682.9) scale(1 1.04)">75</text>
<text class="t" text-anchor="end" transform="translate(636.6 790.1) scale(1 1.04)">50</text>
<text class="t" text-anchor="end" transform="translate(636.6 897.3) scale(1 1.04)">25</text>
<text class="m" text-anchor="middle" transform="translate(575.2 748.2) rotate(-90) scale(1 1.015)">LC9 score</text>
<text class="m" text-anchor="middle" transform="translate(746 982.7) scale(1 1.015)">Normal</text>
<text class="m" text-anchor="middle" transform="translate(909.7 982.7) scale(1 1.015)">Low ASM</text>
<text class="p" text-anchor="middle" transform="translate(827.9 941.5)">p &lt; 0.001</text>
</g>
<g id="panel-F">
<text class="l" transform="translate(1035 543) scale(1 1.04)">F</text>
<path class="v" fill="#CDB9BE" d="M1258 579.2C1258 585.2 1258.1 591.3 1258.3 597.3C1258.4 599.3 1259.6 601.3 1260.3 603.3C1261.2 606.1 1262.2 608.9 1263.3 611.7C1264.5 614.5 1265.8 617.2 1267.3 620C1268.9 622.8 1270.8 625.6 1273.2 628.4C1275.6 631.1 1279 633.9 1282.6 636.7C1286.2 639.5 1291 642.3 1295.3 645C1299.5 647.8 1305.3 650.6 1308.2 653.4C1311.2 656.1 1314.9 658.9 1314.9 661.7C1314.9 664.5 1314.3 667.3 1313.6 670C1313 672.8 1308.9 675.6 1308.8 678.4C1308.7 681.2 1308.6 684 1308.6 686.7C1308.6 689.5 1313.5 692.3 1316.3 695.1C1319.1 697.8 1322.9 700.6 1325.3 703.4C1327.7 706.2 1330.8 709 1331.4 711.8C1331.7 713.1 1332 714.5 1332 715.9C1332 717.3 1331.2 718.7 1330.5 720.1C1329.1 722.9 1324.9 725.6 1321.5 728.4C1318.2 731.2 1313.6 734 1309.9 736.8C1306.2 739.5 1302.2 742.3 1299.5 745.1C1296.8 747.9 1294.5 750.7 1292.8 753.4C1291.1 756.2 1290.4 759 1288.6 761.8C1287.2 764 1284.3 766.1 1282.7 768.3C1280.6 771.1 1278.9 773.9 1277.7 776.7C1276.4 779.4 1275.2 782.2 1274.7 785C1274.1 787.8 1274 790.6 1273.5 793.3C1273 796.1 1272.6 798.9 1271.8 801.7C1271 804.4 1269.1 807.2 1267.7 810C1266.3 812.8 1264.6 815.6 1263.5 818.3C1262.4 821.1 1261.4 823.9 1260.7 826.7C1260 829.4 1259.4 832.2 1259 835C1258.7 837 1258.4 839 1258.3 841C1258.1 854.6 1258 868.1 1258 881.7C1258 868.1 1257.9 854.6 1257.7 841C1257.6 839 1257.3 837 1257 835C1256.6 832.2 1256 829.4 1255.3 826.7C1254.6 823.9 1253.6 821.1 1252.5 818.3C1251.4 815.6 1249.7 812.8 1248.3 810C1246.9 807.2 1245 804.4 1244.2 801.7C1243.4 798.9 1243 796.1 1242.5 793.3C1242 790.6 1241.9 787.8 1241.3 785C1240.8 782.2 1239.6 779.4 1238.3 776.7C1237.1 773.9 1235.4 771.1 1233.3 768.3C1231.7 766.1 1228.8 764 1227.4 761.8C1225.6 759 1224.9 756.2 1223.2 753.4C1221.5 750.7 1219.2 747.9 1216.5 745.1C1213.8 742.3 1209.8 739.5 1206.1 736.8C1202.4 734 1197.8 731.2 1194.5 728.4C1191.1 725.6 1186.9 722.9 1185.5 720.1C1184.8 718.7 1184 717.3 1184 715.9C1184 714.5 1184.3 713.1 1184.6 711.8C1185.2 709 1188.3 706.2 1190.7 703.4C1193.1 700.6 1196.9 697.8 1199.7 695.1C1202.5 692.3 1207.4 689.5 1207.4 686.7C1207.4 684 1207.3 681.2 1207.2 678.4C1207.1 675.6 1203 672.8 1202.4 670C1201.7 667.3 1201.1 664.5 1201.1 661.7C1201.1 658.9 1204.8 656.1 1207.8 653.4C1210.7 650.6 1216.5 647.8 1220.7 645C1225 642.3 1229.8 639.5 1233.4 636.7C1237 633.9 1240.4 631.1 1242.8 628.4C1245.2 625.6 1247.1 622.8 1248.7 620C1250.2 617.2 1251.5 614.5 1252.7 611.7C1253.8 608.9 1254.8 606.1 1255.7 603.3C1256.4 601.3 1257.6 599.3 1257.7 597.3C1257.9 591.3 1258 585.2 1258 579.2Z"/>
<path class="w" d="M1258 613.3V671.3M1258 735.8V830"/>
<circle class="o" cx="1258" cy="838" r="5"/>
<circle class="o" cx="1258" cy="847.5" r="5"/>
<rect class="b" x="1241.5" y="671.3" width="33" height="64.5" fill="#CDB9BE"/>
<path class="md" d="M1241.5 708.3H1274.5"/>
<path class="v" fill="#D7E4F9" d="M1421.8 565C1421.8 575.2 1421.9 585.4 1422.1 595.7C1422.2 597.7 1422.4 599.7 1422.6 601.7C1422.9 604.4 1423.7 607.2 1424.3 610C1424.9 612.8 1425.8 615.6 1426.3 618.3C1426.8 621.1 1427.1 623.9 1427.6 626.7C1428.1 629.4 1428.6 632.2 1429.3 635C1430 637.8 1430.9 640.6 1432.1 643.3C1433.3 646.1 1435.2 648.9 1437.1 651.7C1439 654.4 1441.4 657.2 1443.8 660C1446.2 662.8 1448.9 665.6 1451.3 668.3C1453.7 671.1 1455.9 673.9 1458 676.7C1460 679.4 1462 682.2 1463.8 685C1465.6 687.8 1467.3 690.6 1468.8 693.3C1470.3 696.1 1471.7 698.9 1473 701.7C1474.2 704.4 1475.5 707.2 1476.3 710C1477.1 712.8 1477.9 715.6 1478.3 718.3C1478.7 721.1 1479.1 723.9 1479.1 726.7C1479.1 729.4 1479 732.2 1478.8 735C1478.6 737.8 1478.1 740.6 1477.6 743.3C1477.1 746.1 1476.2 748.9 1475.5 751.7C1474.7 754.4 1474 757.2 1473.3 760C1472.6 762.8 1471.8 765.6 1471.3 768.3C1470.8 771.1 1470.5 773.9 1470 776.7C1469.4 779.4 1468.9 782.2 1468 785C1467.1 787.8 1465.5 790.6 1463.8 793.3C1462.1 796.1 1459.5 798.9 1457.1 801.7C1454.8 804.4 1452 807.2 1449.6 810C1447.3 812.8 1444.9 815.6 1443 818.3C1441.1 821.1 1439.5 823.9 1438 826.7C1436.5 829.4 1435 832.2 1433.8 835C1432.6 837.8 1431.5 840.6 1430.5 843.3C1429.4 846.1 1428.5 848.9 1427.6 851.7C1426.8 854.4 1426.1 857.2 1425.5 860C1424.8 862.8 1424.3 865.6 1423.8 868.3C1423.3 871.1 1422.9 873.9 1422.6 876.7C1422.4 878.7 1422.2 880.7 1422.1 882.7C1421.9 892.1 1421.8 901.6 1421.8 911C1421.8 901.6 1421.7 892.1 1421.5 882.7C1421.4 880.7 1421.2 878.7 1421 876.7C1420.7 873.9 1420.3 871.1 1419.8 868.3C1419.3 865.6 1418.8 862.8 1418.1 860C1417.5 857.2 1416.8 854.4 1416 851.7C1415.1 848.9 1414.2 846.1 1413.1 843.3C1412.1 840.6 1411 837.8 1409.8 835C1408.6 832.2 1407.1 829.4 1405.6 826.7C1404.1 823.9 1402.5 821.1 1400.6 818.3C1398.7 815.6 1396.3 812.8 1394 810C1391.6 807.2 1388.8 804.4 1386.5 801.7C1384.1 798.9 1381.5 796.1 1379.8 793.3C1378.1 790.6 1376.5 787.8 1375.6 785C1374.7 782.2 1374.2 779.4 1373.6 776.7C1373.1 773.9 1372.8 771.1 1372.3 768.3C1371.8 765.6 1371 762.8 1370.3 760C1369.6 757.2 1368.9 754.4 1368.1 751.7C1367.4 748.9 1366.5 746.1 1366 743.3C1365.5 740.6 1365 737.8 1364.8 735C1364.6 732.2 1364.5 729.4 1364.5 726.7C1364.5 723.9 1364.9 721.1 1365.3 718.3C1365.7 715.6 1366.5 712.8 1367.3 710C1368.1 707.2 1369.4 704.4 1370.6 701.7C1371.9 698.9 1373.3 696.1 1374.8 693.3C1376.3 690.6 1378 687.8 1379.8 685C1381.6 682.2 1383.6 679.4 1385.6 676.7C1387.7 673.9 1389.9 671.1 1392.3 668.3C1394.7 665.6 1397.4 662.8 1399.8 660C1402.2 657.2 1404.6 654.4 1406.5 651.7C1408.4 648.9 1410.3 646.1 1411.5 643.3C1412.7 640.6 1413.6 637.8 1414.3 635C1415 632.2 1415.5 629.4 1416 626.7C1416.5 623.9 1416.8 621.1 1417.3 618.3C1417.8 615.6 1418.7 612.8 1419.3 610C1419.9 607.2 1420.7 604.4 1421 601.7C1421.2 599.7 1421.4 597.7 1421.5 595.7C1421.7 585.4 1421.8 575.2 1421.8 565Z"/>
<path class="w" d="M1421.8 617.5V705.8M1421.8 781.7V858.3"/>
<rect class="b" x="1405.3" y="705.8" width="33" height="75.8" fill="#D7E4F9"/>
<path class="md" d="M1405.3 743.3H1438.3"/>
<path class="ax" d="M1159.5 550.9V949H1517.4"/>
<path class="tk" d="M1153.2 576.2H1157.1M1153.2 680.4H1157.1M1153.2 784.6H1157.1M1153.2 888.8H1157.1M1258 951.4V955.8M1421.8 951.4V955.8"/>
<text class="t" text-anchor="end" transform="translate(1147.2 586.1) scale(1 1.04)">100</text>
<text class="t" text-anchor="end" transform="translate(1147.2 690.3) scale(1 1.04)">75</text>
<text class="t" text-anchor="end" transform="translate(1147.2 794.5) scale(1 1.04)">50</text>
<text class="t" text-anchor="end" transform="translate(1147.2 898.7) scale(1 1.04)">25</text>
<text class="m" text-anchor="middle" transform="translate(1086.8 748.2) rotate(-90) scale(1 1.015)">LC9 score</text>
<text class="m" text-anchor="middle" transform="translate(1258 982.7) scale(1 1.015)">Normal</text>
<text class="m" text-anchor="middle" textLength="156.3" transform="translate(1421.8 982.7) scale(1 1.015)">Sarcopenia</text>
<text class="p" text-anchor="middle" transform="translate(1339.9 941.5)">p &lt; 0.001</text>
</g>
<g id="panel-G">
<text class="l" transform="translate(13.4 1060.4) scale(1 1.04)">G</text>
<path class="v" fill="#CDB9BE" d="M236.3 1105C236.3 1110.2 236.4 1115.5 236.7 1120.7C236.7 1122.7 237.8 1124.7 238.5 1126.7C239.3 1129.5 240.3 1132.2 241.4 1135C242.5 1137.8 243.8 1140.6 245.1 1143.3C246.4 1146.1 247.7 1148.9 249.3 1151.7C250.8 1154.5 252.5 1157.3 254.5 1160C256.4 1162.8 258.9 1165.6 261.4 1168.4C263.9 1171.2 266.8 1173.9 269.7 1176.7C272.6 1179.5 275.8 1182.3 278.9 1185C282 1187.8 285.2 1190.6 288.1 1193.4C290.9 1196.2 293.9 1199 296.2 1201.7C298.5 1204.5 301 1207.3 302.2 1210.1C303.5 1212.8 304.1 1215.6 305 1218.4C305.9 1221.2 306.6 1224 307.4 1226.8C308.3 1229.5 309.8 1232.3 310.1 1235.1C310.4 1237.9 310.6 1240.6 310.6 1243.4C310.6 1246.2 307.8 1249 305.6 1251.8C303.4 1254.5 299.2 1257.3 296 1260.1C292.7 1262.9 288.9 1265.7 286 1268.4C283 1271.2 280.2 1274 278.1 1276.8C276.4 1279 275.3 1281.1 273.8 1283.3C271.9 1286.1 269.9 1288.9 268 1291.7C266 1294.4 263.9 1297.2 262.1 1300C260.3 1302.8 258.7 1305.6 257.1 1308.3C255.6 1311.1 254.1 1313.9 252.6 1316.7C251.2 1319.4 249.7 1322.2 248.5 1325C247.2 1327.8 246 1330.6 245 1333.3C243.9 1336.1 243 1338.9 242.1 1341.7C241.3 1344.4 240.6 1347.2 240 1350C239.4 1352.8 238.9 1355.6 238.5 1358.3C238.1 1361.1 237.8 1363.9 237.5 1366.7C237.2 1368.7 236.7 1370.7 236.7 1372.7C236.4 1377.3 236.3 1382 236.3 1386.7C236.3 1382 236.2 1377.3 236 1372.7C235.9 1370.7 235.4 1368.7 235.1 1366.7C234.8 1363.9 234.5 1361.1 234.1 1358.3C233.7 1355.6 233.2 1352.8 232.6 1350C232 1347.2 231.3 1344.4 230.5 1341.7C229.6 1338.9 228.7 1336.1 227.6 1333.3C226.6 1330.6 225.4 1327.8 224.1 1325C222.9 1322.2 221.4 1319.4 220 1316.7C218.5 1313.9 217 1311.1 215.5 1308.3C213.9 1305.6 212.3 1302.8 210.5 1300C208.7 1297.2 206.6 1294.4 204.6 1291.7C202.7 1288.9 200.7 1286.1 198.8 1283.3C197.3 1281.1 196.2 1279 194.5 1276.8C192.4 1274 189.6 1271.2 186.6 1268.4C183.7 1265.7 179.9 1262.9 176.6 1260.1C173.4 1257.3 169.2 1254.5 167 1251.8C164.8 1249 162 1246.2 162 1243.4C162 1240.6 162.2 1237.9 162.5 1235.1C162.8 1232.3 164.3 1229.5 165.2 1226.8C166 1224 166.7 1221.2 167.6 1218.4C168.5 1215.6 169.1 1212.8 170.4 1210.1C171.6 1207.3 174.1 1204.5 176.4 1201.7C178.7 1199 181.7 1196.2 184.5 1193.4C187.4 1190.6 190.6 1187.8 193.7 1185C196.8 1182.3 200 1179.5 202.9 1176.7C205.8 1173.9 208.7 1171.2 211.2 1168.4C213.7 1165.6 216.2 1162.8 218.1 1160C220.1 1157.3 221.8 1154.5 223.3 1151.7C224.9 1148.9 226.2 1146.1 227.5 1143.3C228.8 1140.6 230.1 1137.8 231.2 1135C232.3 1132.2 233.3 1129.5 234.2 1126.7C234.8 1124.7 235.9 1122.7 236 1120.7C236.2 1115.5 236.3 1110.2 236.3 1105Z"/>
<path class="w" d="M236.3 1140.3V1207.5M236.3 1261.7V1332.5"/>
<circle class="o" cx="236.3" cy="1350" r="5"/>
<rect class="b" x="219.8" y="1207.5" width="33" height="54.2" fill="#CDB9BE"/>
<path class="md" d="M219.8 1235.5H252.8"/>
<path class="v" fill="#D7E4F9" d="M399.7 1082.5C399.7 1091.9 399.8 1101.3 400.1 1110.7C400.1 1112.7 400.5 1114.7 400.9 1116.7C401.4 1119.4 402.3 1122.2 403.4 1125C404.4 1127.8 406 1130.6 407.5 1133.3C409 1136.1 410.7 1138.9 412.5 1141.7C414.3 1144.4 416.3 1147.2 418.4 1150C420.4 1152.8 422.8 1155.6 425 1158.3C427.3 1161.1 429.5 1163.9 431.7 1166.7C433.9 1169.4 436.1 1172.2 438.4 1175C440.6 1177.8 442.8 1180.6 445 1183.3C447.3 1186.1 449.5 1188.9 451.7 1191.7C453.9 1194.4 456.7 1197.2 458.4 1200C460.1 1202.8 461.8 1205.6 462.5 1208.3C463.1 1210.6 463.7 1212.8 463.7 1215C463.7 1215.6 463.6 1216.1 463.5 1216.7C463.2 1219.4 461.9 1222.2 460.9 1225C459.9 1227.8 458.6 1230.6 457.5 1233.3C456.4 1236.1 455.2 1238.9 454.2 1241.7C453.2 1244.4 452.6 1247.2 451.7 1250C450.8 1252.8 449.9 1255.6 448.7 1258.3C447.5 1261.1 445.8 1263.9 444.2 1266.7C442.6 1269.4 440.9 1272.2 439.2 1275C437.5 1277.8 435.9 1280.6 434.2 1283.3C432.5 1286.1 430.9 1288.9 429.2 1291.7C427.5 1294.4 425.9 1297.2 424.2 1300C422.5 1302.8 420.7 1305.6 419.2 1308.3C417.7 1311.1 416.3 1313.9 415 1316.7C413.8 1319.4 412.8 1322.2 411.7 1325C410.6 1327.8 409.7 1330.6 408.7 1333.3C407.7 1336.1 406.8 1338.9 405.9 1341.7C405 1344.4 404 1347.2 403.4 1350C402.7 1352.8 402.1 1355.6 401.7 1358.3C401.3 1361.1 401 1363.9 400.7 1366.7C400.4 1369.4 400 1372.2 400 1375C400 1377.8 400.4 1380.6 400.4 1383.3C400.4 1388.9 400.4 1394.4 400.4 1400C400.4 1403.3 400 1406.7 400 1410C400 1412 400 1414 400 1416C400 1426.8 399.9 1437.6 399.7 1448.3C399.5 1437.6 399.4 1426.8 399.4 1416C399.4 1414 399.4 1412 399.4 1410C399.4 1406.7 399 1403.3 399 1400C399 1394.4 399 1388.9 399 1383.3C399 1380.6 399.4 1377.8 399.4 1375C399.4 1372.2 399 1369.4 398.7 1366.7C398.4 1363.9 398.1 1361.1 397.7 1358.3C397.3 1355.6 396.7 1352.8 396 1350C395.4 1347.2 394.4 1344.4 393.5 1341.7C392.6 1338.9 391.7 1336.1 390.7 1333.3C389.7 1330.6 388.8 1327.8 387.7 1325C386.6 1322.2 385.6 1319.4 384.4 1316.7C383.1 1313.9 381.7 1311.1 380.2 1308.3C378.7 1305.6 376.9 1302.8 375.2 1300C373.5 1297.2 371.9 1294.4 370.2 1291.7C368.5 1288.9 366.9 1286.1 365.2 1283.3C363.5 1280.6 361.9 1277.8 360.2 1275C358.5 1272.2 356.8 1269.4 355.2 1266.7C353.6 1263.9 351.9 1261.1 350.7 1258.3C349.5 1255.6 348.6 1252.8 347.7 1250C346.8 1247.2 346.2 1244.4 345.2 1241.7C344.2 1238.9 343 1236.1 341.9 1233.3C340.8 1230.6 339.5 1227.8 338.5 1225C337.5 1222.2 336.2 1219.4 335.9 1216.7C335.8 1216.1 335.7 1215.6 335.7 1215C335.7 1212.8 336.3 1210.6 336.9 1208.3C337.6 1205.6 339.3 1202.8 341 1200C342.7 1197.2 345.5 1194.4 347.7 1191.7C349.9 1188.9 352.1 1186.1 354.4 1183.3C356.6 1180.6 358.8 1177.8 361 1175C363.3 1172.2 365.5 1169.4 367.7 1166.7C369.9 1163.9 372.1 1161.1 374.4 1158.3C376.6 1155.6 379 1152.8 381 1150C383.1 1147.2 385.1 1144.4 386.9 1141.7C388.7 1138.9 390.4 1136.1 391.9 1133.3C393.4 1130.6 395 1127.8 396 1125C397.1 1122.2 398 1119.4 398.5 1116.7C398.9 1114.7 399.3 1112.7 399.3 1110.7C399.6 1101.3 399.7 1091.9 399.7 1082.5Z"/>
<path class="w" d="M399.7 1126.7V1197.2M399.7 1264.2V1368.3"/>
<circle class="o" cx="399.7" cy="1403" r="5"/>
<rect class="b" x="383.2" y="1197.2" width="33" height="67" fill="#D7E4F9"/>
<path class="md" d="M383.2 1227.8H416.2"/>
<path class="ax" d="M138.6 1067.4V1466H495.2"/>
<path class="tk" d="M131.6 1093.7H136.2M131.6 1197H136.2M131.6 1300.3H136.2M131.6 1403.7H136.2M236.3 1468.4V1472.8M399.7 1468.4V1472.8"/>
<text class="t" text-anchor="end" transform="translate(124.9 1103.6) scale(1 1.04)">100</text>
<text class="t" text-anchor="end" transform="translate(124.9 1206.9) scale(1 1.04)">75</text>
<text class="t" text-anchor="end" transform="translate(124.9 1310.2) scale(1 1.04)">50</text>
<text class="t" text-anchor="end" transform="translate(124.9 1413.6) scale(1 1.04)">25</text>
<text class="m" text-anchor="middle" transform="translate(64.8 1265) rotate(-90) scale(1 1.015)">LE8 score</text>
<text class="m" text-anchor="middle" transform="translate(236.3 1499.5) scale(1 1.015)">Normal</text>
<text class="m" text-anchor="middle" transform="translate(399.7 1499.5) scale(1 1.015)">Low HGS</text>
<text class="p" text-anchor="middle" transform="translate(318 1456.3)">p = 0.315</text>
</g>
<g id="panel-H">
<text class="l" transform="translate(525.3 1060.4) scale(1 1.04)">H</text>
<path class="v" fill="#CDB9BE" d="M746 1081.7C746 1091.3 746.1 1101 746.4 1110.7C746.4 1112.7 746.7 1114.7 747 1116.7C747.5 1119.5 749 1122.2 750.4 1125C751.7 1127.8 753.4 1130.6 755.1 1133.3C756.8 1136.1 758.8 1138.9 761 1141.7C763.1 1144.5 765.4 1147.3 767.9 1150C770.3 1152.8 772.8 1155.6 775.5 1158.4C778.3 1161.2 781.5 1163.9 784.5 1166.7C787.6 1169.5 790.8 1172.3 794 1175C797.1 1177.8 800.2 1180.6 803.3 1183.4C806.4 1186.2 810.1 1189 812.5 1191.7C814.8 1194.5 817.4 1197.3 818.1 1200.1C818.9 1202.8 819.6 1205.6 819.6 1208.4C819.6 1211.2 819.1 1214 818.7 1216.8C818.3 1219.5 816.8 1222.3 816.8 1225.1C816.8 1227.9 816.8 1230.6 816.8 1233.4C816.8 1236.2 816.4 1239 815.8 1241.8C815.2 1244.5 811.8 1247.3 809.1 1250.1C806.5 1252.9 802.6 1255.7 799.5 1258.4C796.5 1261.2 793.5 1264 790.6 1266.8C786.6 1270.6 782.1 1274.5 779 1278.3C776.7 1281.1 774.8 1283.9 773.2 1286.7C771.5 1289.4 770.3 1292.2 769 1295C767.7 1297.8 766.6 1300.6 765.3 1303.3C764.1 1306.1 762.8 1308.9 761.5 1311.7C760.2 1314.4 758.7 1317.2 757.3 1320C755.9 1322.8 754.4 1325.6 753.2 1328.3C751.9 1331.1 750.7 1333.9 749.8 1336.7C749 1339.4 748.1 1342.2 747.7 1345C747.2 1347.8 746.9 1350.6 746.7 1353.3C746.5 1355.3 746.4 1357.3 746.4 1359.3C746.1 1367.1 746 1374.8 746 1382.5C746 1374.8 745.9 1367.1 745.6 1359.3C745.6 1357.3 745.5 1355.3 745.3 1353.3C745.1 1350.6 744.8 1347.8 744.3 1345C743.9 1342.2 743 1339.4 742.2 1336.7C741.3 1333.9 740.1 1331.1 738.8 1328.3C737.6 1325.6 736.1 1322.8 734.7 1320C733.3 1317.2 731.8 1314.4 730.5 1311.7C729.2 1308.9 727.9 1306.1 726.7 1303.3C725.4 1300.6 724.3 1297.8 723 1295C721.7 1292.2 720.5 1289.4 718.8 1286.7C717.2 1283.9 715.3 1281.1 713 1278.3C709.9 1274.5 705.4 1270.6 701.4 1266.8C698.5 1264 695.5 1261.2 692.5 1258.4C689.4 1255.7 685.5 1252.9 682.9 1250.1C680.2 1247.3 676.8 1244.5 676.2 1241.8C675.6 1239 675.2 1236.2 675.2 1233.4C675.2 1230.6 675.2 1227.9 675.2 1225.1C675.2 1222.3 673.7 1219.5 673.3 1216.8C672.9 1214 672.4 1211.2 672.4 1208.4C672.4 1205.6 673.1 1202.8 673.9 1200.1C674.6 1197.3 677.2 1194.5 679.5 1191.7C681.9 1189 685.6 1186.2 688.7 1183.4C691.8 1180.6 694.9 1177.8 698 1175C701.2 1172.3 704.4 1169.5 707.5 1166.7C710.5 1163.9 713.7 1161.2 716.5 1158.4C719.2 1155.6 721.7 1152.8 724.1 1150C726.6 1147.3 728.9 1144.5 731 1141.7C733.2 1138.9 735.2 1136.1 736.9 1133.3C738.6 1130.6 740.3 1127.8 741.6 1125C743 1122.2 744.5 1119.5 745 1116.7C745.3 1114.7 745.6 1112.7 745.6 1110.7C745.9 1101 746 1091.3 746 1081.7Z"/>
<path class="w" d="M746 1120V1194.7M746 1250.3V1321.7"/>
<circle class="o" cx="746" cy="1336.7" r="5"/>
<circle class="o" cx="746" cy="1341.7" r="5"/>
<circle class="o" cx="746" cy="1346.7" r="5"/>
<circle class="o" cx="746" cy="1350.8" r="5"/>
<rect class="b" x="729.5" y="1194.7" width="33" height="55.7" fill="#CDB9BE"/>
<path class="md" d="M729.5 1223.8H762.5"/>
<path class="v" fill="#D7E4F9" d="M909.7 1085C909.7 1090.8 909.8 1096.6 910.1 1102.3C910.1 1104.3 910.3 1106.3 910.7 1108.3C910.9 1109.4 911.6 1110.6 912 1111.7C913.1 1114.4 913.8 1117.2 914.9 1120C916 1122.8 917.4 1125.6 918.7 1128.3C920 1131.1 921.3 1133.9 922.7 1136.7C924.1 1139.4 925.7 1142.2 927.4 1145C929 1147.8 930.8 1150.6 932.7 1153.3C934.6 1156.1 936.9 1158.9 939 1161.7C941.2 1164.4 943.5 1167.2 945.7 1170C947.9 1172.8 950 1175.6 952.4 1178.3C954.7 1181.1 957.5 1183.9 959.9 1186.7C962.2 1189.4 964.6 1192.2 966.5 1195C968.4 1197.8 970.3 1200.6 971.5 1203.3C972.7 1206.1 973.9 1208.9 974.4 1211.7C974.9 1214.4 975.4 1217.2 975.4 1220C975.4 1222.8 974.9 1225.6 974.4 1228.3C973.9 1231.1 972.6 1233.9 971.5 1236.7C970.4 1239.4 968.9 1242.2 967.7 1245C966.5 1247.8 965.3 1250.6 964 1253.3C962.8 1256.1 961.5 1258.9 960.2 1261.7C958.9 1264.4 957.6 1267.2 956 1270C954.5 1272.8 952.7 1275.6 950.7 1278.3C948.7 1281.1 946.4 1283.9 944 1286.7C941.7 1289.4 938.7 1292.2 936.5 1295C934.3 1297.8 932.1 1300.6 930.7 1303.3C929.3 1306.1 928.2 1308.9 927.4 1311.7C926.5 1314.4 926 1317.2 925.4 1320C924.8 1322.8 924.4 1325.6 923.7 1328.3C923 1331.1 922.1 1333.9 921.2 1336.7C920.3 1339.4 919.2 1342.2 918.2 1345C917.2 1347.8 916.3 1350.6 915.4 1353.3C914.5 1356.1 913.5 1358.9 912.7 1361.7C911.9 1364.4 910.8 1367.2 910.7 1370C910.6 1372.8 910.5 1375.6 910.5 1378.3C910.5 1383.9 910.5 1389.4 910.5 1395C910.5 1398.3 910 1401.7 910 1405C910 1407 910 1409 910 1411C910 1423.4 909.9 1435.9 909.7 1448.3C909.5 1435.9 909.4 1423.4 909.4 1411C909.4 1409 909.4 1407 909.4 1405C909.4 1401.7 908.9 1398.3 908.9 1395C908.9 1389.4 908.9 1383.9 908.9 1378.3C908.9 1375.6 908.8 1372.8 908.7 1370C908.6 1367.2 907.5 1364.4 906.7 1361.7C905.9 1358.9 904.9 1356.1 904 1353.3C903.1 1350.6 902.2 1347.8 901.2 1345C900.2 1342.2 899.1 1339.4 898.2 1336.7C897.3 1333.9 896.4 1331.1 895.7 1328.3C895 1325.6 894.6 1322.8 894 1320C893.4 1317.2 892.9 1314.4 892 1311.7C891.2 1308.9 890.1 1306.1 888.7 1303.3C887.3 1300.6 885.1 1297.8 882.9 1295C880.7 1292.2 877.7 1289.4 875.4 1286.7C873 1283.9 870.7 1281.1 868.7 1278.3C866.7 1275.6 864.9 1272.8 863.4 1270C861.8 1267.2 860.5 1264.4 859.2 1261.7C857.9 1258.9 856.6 1256.1 855.4 1253.3C854.1 1250.6 852.9 1247.8 851.7 1245C850.5 1242.2 849 1239.4 847.9 1236.7C846.8 1233.9 845.5 1231.1 845 1228.3C844.5 1225.6 844 1222.8 844 1220C844 1217.2 844.5 1214.4 845 1211.7C845.5 1208.9 846.7 1206.1 847.9 1203.3C849.1 1200.6 851 1197.8 852.9 1195C854.8 1192.2 857.2 1189.4 859.5 1186.7C861.9 1183.9 864.7 1181.1 867 1178.3C869.4 1175.6 871.5 1172.8 873.7 1170C875.9 1167.2 878.2 1164.4 880.4 1161.7C882.5 1158.9 884.8 1156.1 886.7 1153.3C888.6 1150.6 890.4 1147.8 892 1145C893.7 1142.2 895.3 1139.4 896.7 1136.7C898.1 1133.9 899.4 1131.1 900.7 1128.3C902 1125.6 903.4 1122.8 904.5 1120C905.6 1117.2 906.3 1114.4 907.4 1111.7C907.8 1110.6 908.5 1109.4 908.7 1108.3C909.1 1106.3 909.3 1104.3 909.4 1102.3C909.6 1096.6 909.7 1090.8 909.7 1085Z"/>
<path class="w" d="M909.7 1131.7V1200M909.7 1267.2V1353.3"/>
<circle class="o" cx="909.7" cy="1402.5" r="5"/>
<rect class="b" x="893.2" y="1200" width="33" height="67.2" fill="#D7E4F9"/>
<path class="md" d="M893.2 1228.8H926.2"/>
<path class="ax" d="M648.2 1067.4V1466H1005.6"/>
<path class="tk" d="M642.2 1082.5H645.8M642.2 1189H645.8M642.2 1295.4H645.8M642.2 1401.8H645.8M746 1468.4V1472.8M909.7 1468.4V1472.8"/>
<text class="t" text-anchor="end" transform="translate(636.6 1092.4) scale(1 1.04)">100</text>
<text class="t" text-anchor="end" transform="translate(636.6 1198.9) scale(1 1.04)">75</text>
<text class="t" text-anchor="end" transform="translate(636.6 1305.3) scale(1 1.04)">50</text>
<text class="t" text-anchor="end" transform="translate(636.6 1411.7) scale(1 1.04)">25</text>
<text class="m" text-anchor="middle" transform="translate(575.2 1265) rotate(-90) scale(1 1.015)">LE8 score</text>
<text class="m" text-anchor="middle" transform="translate(746 1499.5) scale(1 1.015)">Normal</text>
<text class="m" text-anchor="middle" transform="translate(909.7 1499.5) scale(1 1.015)">Low ASM</text>
<text class="p" text-anchor="middle" transform="translate(827.9 1456.3)">p = 0.106</text>
</g>
<g id="panel-I">
<text class="l" transform="translate(1035 1060.4) scale(1 1.04)">I</text>
<path class="v" fill="#CDB9BE" d="M1258 1098.3C1258 1105.8 1258.1 1113.2 1258.3 1120.7C1258.4 1122.7 1259.2 1124.7 1259.8 1126.7C1260.7 1129.5 1261.8 1132.2 1263.2 1135C1264.5 1137.8 1266.4 1140.6 1268.3 1143.3C1270.3 1146.1 1272.6 1148.9 1275 1151.7C1277.4 1154.5 1280.1 1157.3 1282.8 1160C1285.5 1162.8 1288.3 1165.6 1291.3 1168.4C1294.3 1171.2 1297.6 1173.9 1300.7 1176.7C1303.8 1179.5 1306.8 1182.3 1309.9 1185C1313 1187.8 1316.3 1190.6 1319.2 1193.4C1322.1 1196.2 1325.6 1199 1327.4 1201.7C1329.2 1204.5 1331.4 1207.3 1331.6 1210.1C1331.7 1212.8 1331.8 1215.6 1331.8 1218.4C1331.8 1221.2 1330 1224 1329.7 1226.8C1329.3 1229.5 1329.4 1232.3 1329.1 1235.1C1328.7 1237.9 1327.5 1240.6 1326 1243.4C1324.5 1246.2 1320.8 1249 1317.8 1251.8C1314.8 1254.5 1310.7 1257.3 1307.8 1260.1C1304.9 1262.9 1302.5 1265.7 1300.3 1268.4C1298.1 1271.2 1296.5 1274 1294.5 1276.8C1292.8 1279 1291.1 1281.1 1289.3 1283.3C1287.1 1286.1 1284.7 1288.9 1282.7 1291.7C1280.6 1294.4 1278.6 1297.2 1276.8 1300C1275 1302.8 1273.4 1305.6 1271.8 1308.3C1270.3 1311.1 1268.7 1313.9 1267.3 1316.7C1266 1319.4 1264.5 1322.2 1263.5 1325C1262.5 1327.8 1261.7 1330.6 1261 1333.3C1260.3 1336.1 1259.7 1338.9 1259.3 1341.7C1259 1344.4 1258.6 1347.2 1258.5 1350C1258.4 1352 1258.4 1354 1258.3 1356C1258.2 1361.5 1258.1 1367 1258 1372.5C1257.9 1367 1257.8 1361.5 1257.7 1356C1257.6 1354 1257.6 1352 1257.5 1350C1257.4 1347.2 1257 1344.4 1256.7 1341.7C1256.3 1338.9 1255.7 1336.1 1255 1333.3C1254.3 1330.6 1253.5 1327.8 1252.5 1325C1251.5 1322.2 1250 1319.4 1248.7 1316.7C1247.3 1313.9 1245.7 1311.1 1244.2 1308.3C1242.6 1305.6 1241 1302.8 1239.2 1300C1237.4 1297.2 1235.4 1294.4 1233.3 1291.7C1231.3 1288.9 1228.9 1286.1 1226.7 1283.3C1224.9 1281.1 1223.2 1279 1221.5 1276.8C1219.5 1274 1217.9 1271.2 1215.7 1268.4C1213.5 1265.7 1211.1 1262.9 1208.2 1260.1C1205.3 1257.3 1201.2 1254.5 1198.2 1251.8C1195.2 1249 1191.5 1246.2 1190 1243.4C1188.5 1240.6 1187.3 1237.9 1186.9 1235.1C1186.6 1232.3 1186.7 1229.5 1186.3 1226.8C1186 1224 1184.2 1221.2 1184.2 1218.4C1184.2 1215.6 1184.3 1212.8 1184.4 1210.1C1184.6 1207.3 1186.8 1204.5 1188.6 1201.7C1190.4 1199 1193.9 1196.2 1196.8 1193.4C1199.7 1190.6 1203 1187.8 1206.1 1185C1209.2 1182.3 1212.2 1179.5 1215.3 1176.7C1218.4 1173.9 1221.7 1171.2 1224.7 1168.4C1227.7 1165.6 1230.5 1162.8 1233.2 1160C1235.9 1157.3 1238.6 1154.5 1241 1151.7C1243.4 1148.9 1245.7 1146.1 1247.7 1143.3C1249.6 1140.6 1251.5 1137.8 1252.8 1135C1254.2 1132.2 1255.3 1129.5 1256.2 1126.7C1256.8 1124.7 1257.6 1122.7 1257.7 1120.7C1257.9 1113.2 1258 1105.8 1258 1098.3Z"/>
<path class="w" d="M1258 1128.3V1199.7M1258 1253.3V1331.7"/>
<circle class="o" cx="1258" cy="1336.7" r="5"/>
<circle class="o" cx="1258" cy="1340.8" r="5"/>
<rect class="b" x="1241.5" y="1199.7" width="33" height="53.7" fill="#CDB9BE"/>
<path class="md" d="M1241.5 1226.7H1274.5"/>
<path class="v" fill="#D7E4F9" d="M1421.8 1082C1421.8 1090.4 1421.9 1098.9 1422.1 1107.3C1422.2 1109.3 1422.6 1111.3 1423 1113.3C1423.2 1114.4 1423.5 1115.6 1423.8 1116.7C1424.5 1119.4 1425.5 1122.2 1426.3 1125C1427.1 1127.8 1428 1130.6 1428.8 1133.3C1429.6 1136.1 1430.3 1138.9 1431.3 1141.7C1432.3 1144.4 1433.4 1147.2 1434.6 1150C1435.9 1152.8 1437.3 1155.6 1438.8 1158.3C1440.3 1161.1 1442 1163.9 1443.8 1166.7C1445.6 1169.4 1447.6 1172.2 1449.6 1175C1451.7 1177.8 1454.1 1180.6 1456.3 1183.3C1458.5 1186.1 1460.9 1188.9 1463 1191.7C1465 1194.4 1467 1197.2 1468.8 1200C1470.6 1202.8 1472.5 1205.6 1473.8 1208.3C1475.1 1211.1 1476.3 1213.9 1477.1 1216.7C1478 1219.4 1478.8 1222.2 1479.3 1225C1479.8 1227.8 1480.5 1230.6 1480.5 1233.3C1480.5 1236.1 1480.5 1238.9 1480.5 1241.7C1480.5 1244.4 1479.9 1247.2 1479.3 1250C1478.7 1252.8 1477.5 1255.6 1476.3 1258.3C1475.1 1261.1 1473.6 1263.9 1472.1 1266.7C1470.6 1269.4 1468.8 1272.2 1467.1 1275C1465.5 1277.8 1463.8 1280.6 1462.1 1283.3C1460.5 1286.1 1458.6 1288.9 1457.1 1291.7C1455.7 1294.4 1454.3 1297.2 1453.3 1300C1452.3 1302.8 1451.7 1305.6 1450.8 1308.3C1449.9 1311.1 1449 1313.9 1448 1316.7C1446.9 1319.4 1445.6 1322.2 1444.3 1325C1443 1327.8 1441.4 1330.6 1440 1333.3C1438.5 1336.1 1436.9 1338.9 1435.5 1341.7C1434 1344.4 1432.6 1347.2 1431.3 1350C1430 1352.8 1428.5 1355.6 1427.6 1358.3C1426.7 1361.1 1426 1363.9 1425.5 1366.7C1425 1369.4 1424.5 1372.2 1424.3 1375C1424.1 1377.8 1423.9 1380.6 1423.8 1383.3C1423.7 1386.1 1423.5 1388.9 1423.5 1391.7C1423.5 1394.4 1423.5 1397.2 1423.5 1400C1423.5 1402.8 1423.4 1405.6 1423.3 1408.3C1423.2 1411.1 1423.1 1413.9 1423 1416.7C1422.8 1419.4 1422.4 1422.2 1422.3 1425C1422.2 1427 1422.2 1429 1422.1 1431C1422 1436.8 1421.9 1442.6 1421.8 1448.3C1421.7 1442.6 1421.6 1436.8 1421.5 1431C1421.4 1429 1421.4 1427 1421.3 1425C1421.2 1422.2 1420.8 1419.4 1420.6 1416.7C1420.5 1413.9 1420.4 1411.1 1420.3 1408.3C1420.2 1405.6 1420.1 1402.8 1420.1 1400C1420.1 1397.2 1420.1 1394.4 1420.1 1391.7C1420.1 1388.9 1419.9 1386.1 1419.8 1383.3C1419.7 1380.6 1419.5 1377.8 1419.3 1375C1419.1 1372.2 1418.6 1369.4 1418.1 1366.7C1417.6 1363.9 1416.9 1361.1 1416 1358.3C1415.1 1355.6 1413.6 1352.8 1412.3 1350C1411 1347.2 1409.6 1344.4 1408.1 1341.7C1406.7 1338.9 1405.1 1336.1 1403.6 1333.3C1402.2 1330.6 1400.6 1327.8 1399.3 1325C1398 1322.2 1396.7 1319.4 1395.6 1316.7C1394.6 1313.9 1393.7 1311.1 1392.8 1308.3C1391.9 1305.6 1391.3 1302.8 1390.3 1300C1389.3 1297.2 1387.9 1294.4 1386.5 1291.7C1385 1288.9 1383.1 1286.1 1381.5 1283.3C1379.8 1280.6 1378.1 1277.8 1376.5 1275C1374.8 1272.2 1373 1269.4 1371.5 1266.7C1370 1263.9 1368.5 1261.1 1367.3 1258.3C1366.1 1255.6 1364.9 1252.8 1364.3 1250C1363.7 1247.2 1363.1 1244.4 1363.1 1241.7C1363.1 1238.9 1363.1 1236.1 1363.1 1233.3C1363.1 1230.6 1363.8 1227.8 1364.3 1225C1364.8 1222.2 1365.6 1219.4 1366.5 1216.7C1367.3 1213.9 1368.5 1211.1 1369.8 1208.3C1371.1 1205.6 1373 1202.8 1374.8 1200C1376.6 1197.2 1378.6 1194.4 1380.6 1191.7C1382.7 1188.9 1385.1 1186.1 1387.3 1183.3C1389.5 1180.6 1391.9 1177.8 1394 1175C1396 1172.2 1398 1169.4 1399.8 1166.7C1401.6 1163.9 1403.3 1161.1 1404.8 1158.3C1406.3 1155.6 1407.7 1152.8 1409 1150C1410.2 1147.2 1411.3 1144.4 1412.3 1141.7C1413.3 1138.9 1414 1136.1 1414.8 1133.3C1415.6 1130.6 1416.5 1127.8 1417.3 1125C1418.1 1122.2 1419.1 1119.4 1419.8 1116.7C1420.1 1115.6 1420.4 1114.4 1420.6 1113.3C1421 1111.3 1421.4 1109.3 1421.5 1107.3C1421.7 1098.9 1421.8 1090.4 1421.8 1082Z"/>
<path class="w" d="M1421.8 1142.5V1212.5M1421.8 1283V1386.7"/>
<rect class="b" x="1405.3" y="1212.5" width="33" height="70.5" fill="#D7E4F9"/>
<path class="md" d="M1405.3 1247.2H1438.3"/>
<path class="ax" d="M1159.5 1067.4V1466H1517.4"/>
<path class="tk" d="M1153.2 1097.5H1157.1M1153.2 1194.6H1157.1M1153.2 1291.7H1157.1M1153.2 1388.8H1157.1M1258 1468.4V1472.8M1421.8 1468.4V1472.8"/>
<text class="t" text-anchor="end" transform="translate(1147.2 1107.4) scale(1 1.04)">100</text>
<text class="t" text-anchor="end" transform="translate(1147.2 1204.5) scale(1 1.04)">75</text>
<text class="t" text-anchor="end" transform="translate(1147.2 1301.6) scale(1 1.04)">50</text>
<text class="t" text-anchor="end" transform="translate(1147.2 1398.7) scale(1 1.04)">25</text>
<text class="m" text-anchor="middle" transform="translate(1086.8 1265) rotate(-90) scale(1 1.015)">LE8 score</text>
<text class="m" text-anchor="middle" transform="translate(1258 1499.5) scale(1 1.015)">Normal</text>
<text class="m" text-anchor="middle" textLength="156.3" transform="translate(1421.8 1499.5) scale(1 1.015)">Sarcopenia</text>
<text class="p" text-anchor="middle" transform="translate(1339.9 1439.8)">p = 0.001</text>
</g>
<g id="panel-J">
<text class="l" transform="translate(13.4 1567.6) scale(1 1.04)">J</text>
<path class="v" fill="#CDB9BE" d="M236.3 1600.8C236.3 1608 236.4 1615.2 236.7 1622.3C236.7 1624.3 237.6 1626.3 238.2 1628.3C239 1631.1 240 1633.9 241 1636.7C241.9 1639.5 242.8 1642.2 243.9 1645C244.9 1647.8 245.8 1650.6 247.2 1653.3C248.6 1656.1 250.3 1658.9 252.5 1661.7C254.6 1664.5 257.5 1667.3 260.6 1670C263.6 1672.8 267.3 1675.6 271 1678.4C274.6 1681.2 278.9 1683.9 282.7 1686.7C286.4 1689.5 290.3 1692.3 293.5 1695C296.7 1697.8 300 1700.6 302.2 1703.4C304.5 1706.2 306.5 1709 307.7 1711.7C308.9 1714.5 310.3 1717.3 310.3 1720.1C310.4 1722.8 310.4 1725.6 310.4 1728.4C310.4 1731.2 307.8 1734 305.6 1736.8C303.3 1739.5 297.9 1742.3 294.3 1745.1C290.7 1747.9 286.5 1750.6 283.9 1753.4C281.3 1756.2 279 1759 277.5 1761.8C275.9 1764.5 275.2 1767.3 273.9 1770.1C272.5 1772.9 271 1775.7 269.3 1778.4C267.6 1781.2 265.6 1784 263.5 1786.8C261.8 1789 259.6 1791.1 258 1793.3C255.9 1796.1 254 1798.9 252.6 1801.7C251.3 1804.4 250.3 1807.2 249.3 1810C248.3 1812.8 247.5 1815.6 246.6 1818.3C245.8 1821.1 245.1 1823.9 244.3 1826.7C243.5 1829.4 242.5 1832.2 241.6 1835C240.8 1837.8 239.9 1840.6 239.3 1843.3C238.7 1846.1 238.1 1848.9 237.6 1851.7C237.3 1853.7 236.7 1855.7 236.7 1857.7C236.4 1863.4 236.3 1869.2 236.3 1875C236.3 1869.2 236.2 1863.4 236 1857.7C235.9 1855.7 235.3 1853.7 235 1851.7C234.5 1848.9 233.9 1846.1 233.3 1843.3C232.7 1840.6 231.8 1837.8 231 1835C230.1 1832.2 229.1 1829.4 228.3 1826.7C227.5 1823.9 226.8 1821.1 226 1818.3C225.1 1815.6 224.3 1812.8 223.3 1810C222.3 1807.2 221.3 1804.4 220 1801.7C218.6 1798.9 216.7 1796.1 214.6 1793.3C213 1791.1 210.8 1789 209.1 1786.8C207 1784 205 1781.2 203.3 1778.4C201.6 1775.7 200.1 1772.9 198.7 1770.1C197.4 1767.3 196.7 1764.5 195.1 1761.8C193.6 1759 191.3 1756.2 188.7 1753.4C186.1 1750.6 181.9 1747.9 178.3 1745.1C174.7 1742.3 169.3 1739.5 167 1736.8C164.8 1734 162.2 1731.2 162.2 1728.4C162.2 1725.6 162.2 1722.8 162.3 1720.1C162.3 1717.3 163.7 1714.5 164.9 1711.7C166.1 1709 168.1 1706.2 170.4 1703.4C172.6 1700.6 175.9 1697.8 179.1 1695C182.3 1692.3 186.2 1689.5 190 1686.7C193.7 1683.9 198 1681.2 201.6 1678.4C205.3 1675.6 209 1672.8 212.1 1670C215.1 1667.3 218 1664.5 220.1 1661.7C222.3 1658.9 224 1656.1 225.4 1653.3C226.8 1650.6 227.7 1647.8 228.7 1645C229.8 1642.2 230.7 1639.5 231.7 1636.7C232.6 1633.9 233.6 1631.1 234.4 1628.3C235 1626.3 235.9 1624.3 236 1622.3C236.2 1615.2 236.3 1608 236.3 1600.8Z"/>
<path class="w" d="M236.3 1635V1703M236.3 1757.2V1838.3"/>
<circle class="o" cx="236.3" cy="1840.8" r="5"/>
<rect class="b" x="219.8" y="1703" width="33" height="54.2" fill="#CDB9BE"/>
<path class="md" d="M219.8 1727.2H252.8"/>
<path class="v" fill="#D7E4F9" d="M399.7 1590C399.7 1597.4 399.8 1604.9 400.1 1612.3C400.1 1614.3 400.5 1616.3 400.9 1618.3C401.4 1621.1 402.9 1623.9 404.2 1626.7C405.5 1629.4 407.3 1632.2 409.2 1635C411.1 1637.8 413.5 1640.6 415.9 1643.3C418.2 1646.1 420.9 1648.9 423.4 1651.7C425.9 1654.4 428.6 1657.2 430.9 1660C433.1 1662.8 435.2 1665.6 437 1668.3C438.9 1671.1 440.6 1673.9 442 1676.7C443.5 1679.4 444.8 1682.2 445.9 1685C447 1687.8 448 1690.6 448.7 1693.3C449.4 1696.1 449.9 1698.9 450.4 1701.7C450.8 1704.4 451.2 1707.2 451.4 1710C451.5 1712.8 451.7 1715.6 451.7 1718.3C451.7 1721.1 451.5 1723.9 451.4 1726.7C451.2 1729.4 450.8 1732.2 450.4 1735C449.9 1737.8 449.1 1740.6 448.4 1743.3C447.6 1746.1 446.6 1748.9 445.5 1751.7C444.4 1754.4 443.1 1757.2 441.7 1760C440.3 1762.8 438.7 1765.6 437 1768.3C435.4 1771.1 433.6 1773.9 431.7 1776.7C429.8 1779.4 427.8 1782.2 425.9 1785C424 1787.8 421.9 1790.6 420.4 1793.3C418.8 1796.1 417.5 1798.9 416.4 1801.7C415.2 1804.4 414.2 1807.2 413.4 1810C412.5 1812.8 411.9 1815.6 411.2 1818.3C410.5 1821.1 409.9 1823.9 409.2 1826.7C408.5 1829.4 407.9 1832.2 407.2 1835C406.5 1837.8 405.7 1840.6 405 1843.3C404.3 1846.1 403.6 1848.9 403 1851.7C402.4 1854.4 401.8 1857.2 401.4 1860C400.9 1862.8 400.4 1865.6 400.4 1868.3C400.3 1873.9 400.2 1879.4 400.2 1885C400.2 1890.6 400.2 1896.1 400.2 1901.7C400.2 1905 400 1908.3 400 1911.7C400 1913.7 400 1915.7 400 1917.7C400 1930.1 399.9 1942.6 399.7 1955C399.5 1942.6 399.4 1930.1 399.4 1917.7C399.4 1915.7 399.4 1913.7 399.4 1911.7C399.4 1908.3 399.2 1905 399.2 1901.7C399.2 1896.1 399.2 1890.6 399.2 1885C399.2 1879.4 399.1 1873.9 399 1868.3C399 1865.6 398.4 1862.8 398 1860C397.6 1857.2 397 1854.4 396.4 1851.7C395.8 1848.9 395.1 1846.1 394.4 1843.3C393.7 1840.6 392.9 1837.8 392.2 1835C391.5 1832.2 390.9 1829.4 390.2 1826.7C389.5 1823.9 388.9 1821.1 388.2 1818.3C387.5 1815.6 386.9 1812.8 386 1810C385.2 1807.2 384.2 1804.4 383 1801.7C381.9 1798.9 380.6 1796.1 379 1793.3C377.5 1790.6 375.4 1787.8 373.5 1785C371.6 1782.2 369.6 1779.4 367.7 1776.7C365.8 1773.9 364 1771.1 362.4 1768.3C360.7 1765.6 359.1 1762.8 357.7 1760C356.3 1757.2 355 1754.4 353.9 1751.7C352.8 1748.9 351.8 1746.1 351 1743.3C350.3 1740.6 349.5 1737.8 349 1735C348.6 1732.2 348.2 1729.4 348 1726.7C347.9 1723.9 347.7 1721.1 347.7 1718.3C347.7 1715.6 347.9 1712.8 348 1710C348.2 1707.2 348.6 1704.4 349 1701.7C349.4 1698.9 350 1696.1 350.7 1693.3C351.4 1690.6 352.4 1687.8 353.5 1685C354.6 1682.2 355.9 1679.4 357.4 1676.7C358.8 1673.9 360.5 1671.1 362.4 1668.3C364.2 1665.6 366.3 1662.8 368.5 1660C370.8 1657.2 373.5 1654.4 376 1651.7C378.5 1648.9 381.2 1646.1 383.5 1643.3C385.9 1640.6 388.3 1637.8 390.2 1635C392.1 1632.2 393.9 1629.4 395.2 1626.7C396.5 1623.9 398 1621.1 398.5 1618.3C398.9 1616.3 399.3 1614.3 399.3 1612.3C399.6 1604.9 399.7 1597.4 399.7 1590Z"/>
<path class="w" d="M399.7 1635.8V1694.2M399.7 1760.8V1855"/>
<circle class="o" cx="399.7" cy="1870.3" r="5"/>
<circle class="o" cx="399.7" cy="1910" r="5"/>
<rect class="b" x="383.2" y="1694.2" width="33" height="66.7" fill="#D7E4F9"/>
<path class="md" d="M383.2 1727.2H416.2"/>
<path class="ax" d="M138.6 1575.4V1973H495.2"/>
<path class="tk" d="M131.6 1594.2H136.2M131.6 1695.9H136.2M131.6 1797.5H136.2M131.6 1899.2H136.2M236.3 1975.4V1979.8M399.7 1975.4V1979.8"/>
<text class="t" text-anchor="end" transform="translate(124.9 1604.1) scale(1 1.04)">100</text>
<text class="t" text-anchor="end" transform="translate(124.9 1705.8) scale(1 1.04)">75</text>
<text class="t" text-anchor="end" transform="translate(124.9 1807.4) scale(1 1.04)">50</text>
<text class="t" text-anchor="end" transform="translate(124.9 1909.1) scale(1 1.04)">25</text>
<text class="m" text-anchor="middle" transform="translate(64.8 1772.5) rotate(-90) scale(1 1.015)">LC9 score</text>
<text class="m" text-anchor="middle" transform="translate(236.3 2007.5) scale(1 1.015)">Normal</text>
<text class="m" text-anchor="middle" transform="translate(399.7 2007.5) scale(1 1.015)">Low HGS</text>
<text class="p" text-anchor="middle" transform="translate(318 1951.3)">p = 0.831</text>
</g>
<g id="panel-K">
<text class="l" transform="translate(525.3 1567.6) scale(1 1.04)">K</text>
<path class="v" fill="#CDB9BE" d="M746 1601.7C746 1608.6 746.1 1615.4 746.4 1622.3C746.4 1624.3 748.4 1626.3 749.4 1628.3C750.7 1631.1 751.9 1633.9 753.3 1636.7C754.7 1639.5 756.1 1642.2 757.9 1645C759.6 1647.8 761.5 1650.6 763.7 1653.3C765.9 1656.1 768.6 1658.9 771.5 1661.7C774.2 1664.5 777.4 1667.3 780.6 1670C783.9 1672.8 787.6 1675.6 791 1678.4C794.4 1681.2 797.9 1683.9 801 1686.7C804.2 1689.5 807.5 1692.3 810.1 1695C812.8 1697.8 816 1700.6 817.2 1703.4C818.5 1706.2 819.7 1709 819.7 1711.7C819.7 1714.5 819.5 1717.3 819.1 1720.1C818.8 1722.8 817.3 1725.6 816.1 1728.4C814.9 1731.2 813.4 1734 811.6 1736.8C809.9 1739.5 807.9 1742.3 805.5 1745.1C803.2 1747.9 800.2 1750.6 797.5 1753.4C794.7 1756.2 791.9 1759 789.1 1761.8C786.4 1764.5 783.3 1767.3 781 1770.1C778.6 1772.9 776.6 1775.7 774.5 1778.4C772.4 1781.2 770.2 1784 768.5 1786.8C767.1 1789 766 1791.1 764.8 1793.3C763.4 1796.1 762.1 1798.9 760.7 1801.7C759.3 1804.4 757.8 1807.2 756.5 1810C755.2 1812.8 753.8 1815.6 752.7 1818.3C751.6 1821.1 750.6 1823.9 749.8 1826.7C749.1 1829.4 748.3 1832.2 747.8 1835C747.3 1837.8 746.9 1840.6 746.7 1843.3C746.5 1845.3 746.4 1847.3 746.4 1849.3C746.1 1862.6 746 1875.9 746 1889.2C746 1875.9 745.9 1862.6 745.6 1849.3C745.6 1847.3 745.5 1845.3 745.3 1843.3C745.1 1840.6 744.7 1837.8 744.2 1835C743.7 1832.2 742.9 1829.4 742.2 1826.7C741.4 1823.9 740.4 1821.1 739.3 1818.3C738.2 1815.6 736.8 1812.8 735.5 1810C734.2 1807.2 732.7 1804.4 731.3 1801.7C729.9 1798.9 728.6 1796.1 727.2 1793.3C726 1791.1 724.9 1789 723.5 1786.8C721.8 1784 719.6 1781.2 717.5 1778.4C715.4 1775.7 713.4 1772.9 711 1770.1C708.7 1767.3 705.6 1764.5 702.9 1761.8C700.1 1759 697.3 1756.2 694.5 1753.4C691.8 1750.6 688.8 1747.9 686.5 1745.1C684.1 1742.3 682.1 1739.5 680.4 1736.8C678.6 1734 677.1 1731.2 675.9 1728.4C674.7 1725.6 673.2 1722.8 672.9 1720.1C672.5 1717.3 672.3 1714.5 672.3 1711.7C672.3 1709 673.5 1706.2 674.8 1703.4C676 1700.6 679.2 1697.8 681.9 1695C684.5 1692.3 687.8 1689.5 691 1686.7C694.1 1683.9 697.6 1681.2 701 1678.4C704.4 1675.6 708.1 1672.8 711.4 1670C714.6 1667.3 717.8 1664.5 720.5 1661.7C723.4 1658.9 726.1 1656.1 728.3 1653.3C730.5 1650.6 732.4 1647.8 734.1 1645C735.9 1642.2 737.3 1639.5 738.7 1636.7C740.1 1633.9 741.3 1631.1 742.6 1628.3C743.6 1626.3 745.6 1624.3 745.6 1622.3C745.9 1615.4 746 1608.6 746 1601.7Z"/>
<path class="w" d="M746 1635.8V1698M746 1750V1823.3"/>
<circle class="o" cx="746" cy="1828.3" r="5"/>
<circle class="o" cx="746" cy="1833.3" r="5"/>
<circle class="o" cx="746" cy="1839.2" r="5"/>
<circle class="o" cx="746" cy="1844.2" r="5"/>
<circle class="o" cx="746" cy="1856.7" r="5"/>
<rect class="b" x="729.5" y="1698" width="33" height="52" fill="#CDB9BE"/>
<path class="md" d="M729.5 1720.8H762.5"/>
<path class="v" fill="#D7E4F9" d="M909.7 1590C909.7 1599.1 909.8 1608.2 910.1 1617.3C910.1 1619.3 910.3 1621.3 910.7 1623.3C910.9 1624.4 911.6 1625.6 912 1626.7C913.1 1629.4 914.2 1632.2 915.4 1635C916.5 1637.8 917.6 1640.6 919 1643.3C920.4 1646.1 922.3 1648.9 924 1651.7C925.8 1654.4 927.6 1657.2 929.4 1660C931.2 1662.8 933 1665.6 934.9 1668.3C936.7 1671.1 938.6 1673.9 940.4 1676.7C942.2 1679.4 943.9 1682.2 945.7 1685C947.5 1687.8 949.2 1690.6 951 1693.3C952.8 1696.1 954.7 1698.9 956.5 1701.7C958.4 1704.4 960.2 1707.2 962 1710C963.8 1712.8 966.1 1715.6 967.4 1718.3C968.6 1721.1 970.2 1723.9 970.2 1726.7C970.2 1729.4 969.1 1732.2 968.2 1735C967.3 1737.8 965.3 1740.6 964 1743.3C962.7 1746.1 961.1 1748.9 960.4 1751.7C959.6 1754.4 959.2 1757.2 958.7 1760C958.2 1762.8 957.9 1765.6 957.4 1768.3C956.8 1771.1 956.3 1773.9 955.4 1776.7C954.4 1779.4 952.5 1782.2 950.7 1785C948.9 1787.8 946.4 1790.6 944 1793.3C941.7 1796.1 938.5 1798.9 936.5 1801.7C934.5 1804.4 932.6 1807.2 931.5 1810C930.4 1812.8 929.9 1815.6 929 1818.3C928.2 1821.1 927.5 1823.9 926.5 1826.7C925.6 1829.4 924.4 1832.2 923.2 1835C922 1837.8 920.6 1840.6 919.4 1843.3C918.2 1846.1 917 1848.9 916 1851.7C915.1 1854.4 914.2 1857.2 913.5 1860C912.9 1862.8 912.4 1865.6 912 1868.3C911.6 1871.1 911.2 1873.9 911 1876.7C910.9 1879.4 910.7 1882.2 910.7 1885C910.7 1890.6 910.7 1896.1 910.7 1901.7C910.7 1905 910.6 1908.3 910.5 1911.7C910.5 1915 910 1918.3 910 1921.7C910 1923.7 910 1925.7 910 1927.7C910 1936.8 909.9 1945.9 909.7 1955C909.5 1945.9 909.4 1936.8 909.4 1927.7C909.4 1925.7 909.4 1923.7 909.4 1921.7C909.4 1918.3 909 1915 908.9 1911.7C908.8 1908.3 908.7 1905 908.7 1901.7C908.7 1896.1 908.7 1890.6 908.7 1885C908.7 1882.2 908.5 1879.4 908.4 1876.7C908.2 1873.9 907.8 1871.1 907.4 1868.3C907 1865.6 906.5 1862.8 905.9 1860C905.2 1857.2 904.3 1854.4 903.4 1851.7C902.4 1848.9 901.2 1846.1 900 1843.3C898.8 1840.6 897.4 1837.8 896.2 1835C895 1832.2 893.8 1829.4 892.9 1826.7C891.9 1823.9 891.2 1821.1 890.4 1818.3C889.5 1815.6 889 1812.8 887.9 1810C886.8 1807.2 884.9 1804.4 882.9 1801.7C880.9 1798.9 877.7 1796.1 875.4 1793.3C873 1790.6 870.5 1787.8 868.7 1785C866.9 1782.2 865 1779.4 864 1776.7C863.1 1773.9 862.6 1771.1 862 1768.3C861.5 1765.6 861.2 1762.8 860.7 1760C860.2 1757.2 859.8 1754.4 859 1751.7C858.3 1748.9 856.7 1746.1 855.4 1743.3C854.1 1740.6 852.1 1737.8 851.2 1735C850.3 1732.2 849.2 1729.4 849.2 1726.7C849.2 1723.9 850.8 1721.1 852 1718.3C853.3 1715.6 855.6 1712.8 857.4 1710C859.2 1707.2 861 1704.4 862.9 1701.7C864.7 1698.9 866.6 1696.1 868.4 1693.3C870.2 1690.6 871.9 1687.8 873.7 1685C875.5 1682.2 877.2 1679.4 879 1676.7C880.8 1673.9 882.7 1671.1 884.5 1668.3C886.4 1665.6 888.2 1662.8 890 1660C891.8 1657.2 893.6 1654.4 895.4 1651.7C897.1 1648.9 899 1646.1 900.4 1643.3C901.8 1640.6 902.9 1637.8 904 1635C905.2 1632.2 906.3 1629.4 907.4 1626.7C907.8 1625.6 908.5 1624.4 908.7 1623.3C909.1 1621.3 909.3 1619.3 909.4 1617.3C909.6 1608.2 909.7 1599.1 909.7 1590Z"/>
<path class="w" d="M909.7 1636.3V1705.3M909.7 1776.3V1868.3"/>
<circle class="o" cx="909.7" cy="1910" r="5"/>
<rect class="b" x="893.2" y="1705.3" width="33" height="71" fill="#D7E4F9"/>
<path class="md" d="M893.2 1734.7H926.2"/>
<path class="ax" d="M648.2 1575.4V1973H1005.6"/>
<path class="tk" d="M642.2 1594.2H645.8M642.2 1695.9H645.8M642.2 1797.5H645.8M642.2 1899.2H645.8M746 1975.4V1979.8M909.7 1975.4V1979.8"/>
<text class="t" text-anchor="end" transform="translate(636.6 1604.1) scale(1 1.04)">100</text>
<text class="t" text-anchor="end" transform="translate(636.6 1705.8) scale(1 1.04)">75</text>
<text class="t" text-anchor="end" transform="translate(636.6 1807.4) scale(1 1.04)">50</text>
<text class="t" text-anchor="end" transform="translate(636.6 1909.1) scale(1 1.04)">25</text>
<text class="m" text-anchor="middle" transform="translate(575.2 1772.5) rotate(-90) scale(1 1.015)">LC9 score</text>
<text class="m" text-anchor="middle" transform="translate(746 2007.5) scale(1 1.015)">Normal</text>
<text class="m" text-anchor="middle" transform="translate(909.7 2007.5) scale(1 1.015)">Low ASM</text>
<text class="p" text-anchor="middle" transform="translate(827.9 1951.3)">p &lt; 0.001</text>
</g>
<g id="panel-L">
<text class="l" transform="translate(1035 1567.6) scale(1 1.04)">L</text>
<path class="v" fill="#CDB9BE" d="M1258 1593C1258 1597.1 1258.2 1601.2 1258.3 1605.3C1258.4 1607.3 1258.6 1609.3 1258.8 1611.3C1259.1 1613.7 1260.6 1616 1261.5 1618.3C1262.6 1621.1 1263.6 1623.9 1264.8 1626.7C1266.1 1629.5 1267.7 1632.2 1269.4 1635C1271.2 1637.8 1273.4 1640.6 1275.7 1643.3C1278 1646.1 1280.6 1648.9 1283.5 1651.7C1286.3 1654.5 1289.9 1657.3 1293.2 1660C1296.5 1662.8 1300.1 1665.6 1303.5 1668.4C1306.9 1671.2 1310.4 1673.9 1313.6 1676.7C1316.8 1679.5 1320.2 1682.3 1322.6 1685C1325 1687.8 1327.3 1690.6 1328.7 1693.4C1330 1696.2 1331.1 1699 1331.6 1701.7C1332 1704.5 1332.4 1707.3 1332.4 1710.1C1332.4 1712.8 1331.5 1715.6 1330.6 1718.4C1329.7 1721.2 1327.5 1724 1325.6 1726.8C1323.6 1729.5 1320.9 1732.3 1318.5 1735.1C1316 1737.9 1313.3 1740.6 1311 1743.4C1308.6 1746.2 1306.5 1749 1304.5 1751.8C1302.5 1754.5 1300.9 1757.3 1298.9 1760.1C1296.8 1762.9 1294.5 1765.7 1292.1 1768.4C1289.8 1771.2 1287 1773.9 1284.6 1776.7C1282.3 1779.5 1279.8 1782.2 1278 1785C1276.1 1787.8 1274.5 1790.6 1273.2 1793.3C1271.9 1796.1 1271 1798.9 1270 1801.7C1269 1804.5 1268.1 1807.3 1267.1 1810C1266.1 1812.8 1265.2 1815.6 1264.2 1818.4C1263.5 1820.3 1262.5 1822.3 1261.9 1824.2C1260.7 1828.3 1259.3 1832.3 1258.8 1836.3C1258.6 1838.3 1258.4 1840.3 1258.3 1842.3C1258.1 1854.2 1258 1866.1 1258 1878C1258 1866.1 1257.9 1854.2 1257.7 1842.3C1257.6 1840.3 1257.4 1838.3 1257.2 1836.3C1256.7 1832.3 1255.3 1828.3 1254.1 1824.2C1253.5 1822.3 1252.5 1820.3 1251.8 1818.4C1250.8 1815.6 1249.9 1812.8 1248.9 1810C1247.9 1807.3 1247 1804.5 1246 1801.7C1245 1798.9 1244.1 1796.1 1242.8 1793.3C1241.5 1790.6 1239.9 1787.8 1238 1785C1236.2 1782.2 1233.7 1779.5 1231.4 1776.7C1229 1773.9 1226.2 1771.2 1223.9 1768.4C1221.5 1765.7 1219.2 1762.9 1217.1 1760.1C1215.1 1757.3 1213.5 1754.5 1211.5 1751.8C1209.5 1749 1207.4 1746.2 1205 1743.4C1202.7 1740.6 1200 1737.9 1197.5 1735.1C1195.1 1732.3 1192.4 1729.5 1190.4 1726.8C1188.5 1724 1186.3 1721.2 1185.4 1718.4C1184.5 1715.6 1183.6 1712.8 1183.6 1710.1C1183.6 1707.3 1184 1704.5 1184.4 1701.7C1184.9 1699 1186 1696.2 1187.3 1693.4C1188.7 1690.6 1191 1687.8 1193.4 1685C1195.8 1682.3 1199.2 1679.5 1202.4 1676.7C1205.6 1673.9 1209.1 1671.2 1212.5 1668.4C1215.9 1665.6 1219.5 1662.8 1222.8 1660C1226.1 1657.3 1229.7 1654.5 1232.5 1651.7C1235.4 1648.9 1238 1646.1 1240.3 1643.3C1242.6 1640.6 1244.8 1637.8 1246.6 1635C1248.3 1632.2 1249.9 1629.5 1251.2 1626.7C1252.4 1623.9 1253.4 1621.1 1254.5 1618.3C1255.4 1616 1256.9 1613.7 1257.2 1611.3C1257.4 1609.3 1257.6 1607.3 1257.7 1605.3C1257.8 1601.2 1258 1597.1 1258 1593Z"/>
<path class="w" d="M1258 1625.5V1688M1258 1744.3V1824.7"/>
<circle class="o" cx="1258" cy="1830.5" r="5"/>
<circle class="o" cx="1258" cy="1846.3" r="5"/>
<rect class="b" x="1241.5" y="1688" width="33" height="56.3" fill="#CDB9BE"/>
<path class="md" d="M1241.5 1714.7H1274.5"/>
<path class="v" fill="#D7E4F9" d="M1421.8 1590C1421.8 1596.2 1421.9 1602.4 1422.1 1608.7C1422.2 1610.7 1422.6 1612.7 1423 1614.7C1423.3 1616.3 1424.3 1618 1425 1619.7C1426.1 1622.4 1427.5 1625.2 1428.8 1628C1430.1 1630.8 1431.5 1633.6 1432.6 1636.3C1433.7 1639.1 1434.6 1641.9 1435.5 1644.7C1436.3 1647.4 1437.2 1650.2 1437.6 1653C1438 1655.8 1438.2 1658.6 1438.5 1661.3C1438.7 1664.1 1438.9 1666.9 1439.3 1669.7C1439.7 1672.4 1440.2 1675.2 1441 1678C1441.8 1680.8 1443.6 1683.6 1445.5 1686.3C1447.3 1689.1 1450.5 1691.9 1453 1694.7C1455.5 1697.4 1458 1700.2 1460.5 1703C1463 1705.8 1465.8 1708.6 1468 1711.3C1470.2 1714.1 1472.4 1716.9 1473.8 1719.7C1475.2 1722.4 1476.4 1725.2 1477.1 1728C1477.9 1730.8 1478.4 1733.6 1478.8 1736.3C1479.2 1739.1 1479.6 1741.9 1479.6 1744.7C1479.6 1747.4 1479.6 1750.2 1479.6 1753C1479.6 1755.8 1478.9 1758.6 1478.3 1761.3C1477.7 1764.1 1476.6 1766.9 1475.5 1769.7C1474.3 1772.4 1472.8 1775.2 1471.3 1778C1469.8 1780.8 1467.8 1783.6 1466.3 1786.3C1464.8 1789.1 1463.5 1791.9 1462.1 1794.7C1460.7 1797.4 1459.3 1800.2 1458 1803C1456.7 1805.8 1455.7 1808.6 1454.3 1811.3C1452.9 1814.1 1451.3 1816.9 1449.6 1819.7C1448 1822.4 1446.1 1825.2 1444.3 1828C1442.5 1830.8 1440.4 1833.6 1438.8 1836.3C1437.1 1839.1 1435.6 1841.9 1434.3 1844.7C1433 1847.4 1432 1850.2 1431 1853C1430 1855.8 1429 1858.6 1428.3 1861.3C1427.6 1864.1 1427.1 1866.9 1426.6 1869.7C1426.2 1872.4 1425.8 1875.2 1425.5 1878C1425.1 1880.8 1424.9 1883.6 1424.6 1886.3C1424.4 1889.1 1424 1891.9 1423.8 1894.7C1423.6 1897.4 1423.4 1900.2 1423.3 1903C1423.2 1905.8 1423.2 1908.6 1423.1 1911.3C1423.1 1914.7 1423 1918 1422.8 1921.3C1422.7 1923.6 1422.4 1925.8 1422.3 1928C1422.2 1930 1422.2 1932 1422.1 1934C1422 1941 1421.9 1948 1421.8 1955C1421.7 1948 1421.6 1941 1421.5 1934C1421.4 1932 1421.4 1930 1421.3 1928C1421.2 1925.8 1420.9 1923.6 1420.8 1921.3C1420.6 1918 1420.5 1914.7 1420.5 1911.3C1420.4 1908.6 1420.4 1905.8 1420.3 1903C1420.2 1900.2 1420 1897.4 1419.8 1894.7C1419.6 1891.9 1419.2 1889.1 1419 1886.3C1418.7 1883.6 1418.5 1880.8 1418.1 1878C1417.8 1875.2 1417.4 1872.4 1417 1869.7C1416.5 1866.9 1416 1864.1 1415.3 1861.3C1414.6 1858.6 1413.6 1855.8 1412.6 1853C1411.6 1850.2 1410.6 1847.4 1409.3 1844.7C1408 1841.9 1406.5 1839.1 1404.8 1836.3C1403.2 1833.6 1401.1 1830.8 1399.3 1828C1397.5 1825.2 1395.6 1822.4 1394 1819.7C1392.3 1816.9 1390.7 1814.1 1389.3 1811.3C1387.9 1808.6 1386.9 1805.8 1385.6 1803C1384.3 1800.2 1382.9 1797.4 1381.5 1794.7C1380.1 1791.9 1378.8 1789.1 1377.3 1786.3C1375.8 1783.6 1373.8 1780.8 1372.3 1778C1370.8 1775.2 1369.3 1772.4 1368.1 1769.7C1367 1766.9 1365.9 1764.1 1365.3 1761.3C1364.7 1758.6 1364 1755.8 1364 1753C1364 1750.2 1364 1747.4 1364 1744.7C1364 1741.9 1364.4 1739.1 1364.8 1736.3C1365.2 1733.6 1365.7 1730.8 1366.5 1728C1367.2 1725.2 1368.4 1722.4 1369.8 1719.7C1371.2 1716.9 1373.4 1714.1 1375.6 1711.3C1377.8 1708.6 1380.6 1705.8 1383.1 1703C1385.6 1700.2 1388.1 1697.4 1390.6 1694.7C1393.1 1691.9 1396.3 1689.1 1398.1 1686.3C1400 1683.6 1401.8 1680.8 1402.6 1678C1403.4 1675.2 1403.9 1672.4 1404.3 1669.7C1404.7 1666.9 1404.9 1664.1 1405.1 1661.3C1405.4 1658.6 1405.6 1655.8 1406 1653C1406.4 1650.2 1407.3 1647.4 1408.1 1644.7C1409 1641.9 1409.9 1639.1 1411 1636.3C1412.1 1633.6 1413.5 1630.8 1414.8 1628C1416.1 1625.2 1417.5 1622.4 1418.6 1619.7C1419.3 1618 1420.3 1616.3 1420.6 1614.7C1421 1612.7 1421.4 1610.7 1421.5 1608.7C1421.7 1602.4 1421.8 1596.2 1421.8 1590Z"/>
<path class="w" d="M1421.8 1645.5V1721.7M1421.8 1785.2V1858.8"/>
<circle class="o" cx="1421.8" cy="1900.2" r="5"/>
<rect class="b" x="1405.3" y="1721.7" width="33" height="63.5" fill="#D7E4F9"/>
<path class="md" d="M1405.3 1751H1438.3"/>
<path class="ax" d="M1159.5 1575.4V1973H1517.4"/>
<path class="tk" d="M1153.2 1584.7H1157.1M1153.2 1685.9H1157.1M1153.2 1787.1H1157.1M1153.2 1888.3H1157.1M1258 1975.4V1979.8M1421.8 1975.4V1979.8"/>
<text class="t" text-anchor="end" transform="translate(1147.2 1594.6) scale(1 1.04)">100</text>
<text class="t" text-anchor="end" transform="translate(1147.2 1695.8) scale(1 1.04)">75</text>
<text class="t" text-anchor="end" transform="translate(1147.2 1797) scale(1 1.04)">50</text>
<text class="t" text-anchor="end" transform="translate(1147.2 1898.2) scale(1 1.04)">25</text>
<text class="m" text-anchor="middle" transform="translate(1086.8 1772.5) rotate(-90) scale(1 1.015)">LC9 score</text>
<text class="m" text-anchor="middle" transform="translate(1258 2007.5) scale(1 1.015)">Normal</text>
<text class="m" text-anchor="middle" textLength="156.3" transform="translate(1421.8 2007.5) scale(1 1.015)">Sarcopenia</text>
<text class="p" text-anchor="middle" transform="translate(1339.9 1941.8)">p &lt; 0.001</text>
</g>
</svg>
</body></html>
